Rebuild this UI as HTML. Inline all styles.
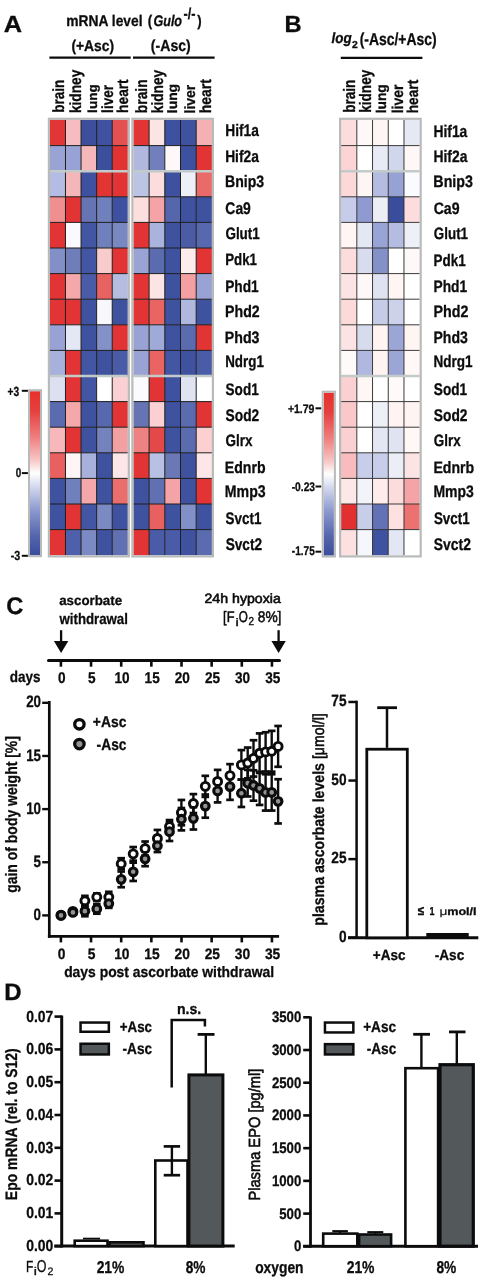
<!DOCTYPE html><html><head><meta charset="utf-8"><style>html,body{margin:0;padding:0;background:#fff;width:486px;height:1280px;overflow:hidden}</style></head><body><svg width="486" height="1280" viewBox="0 0 486 1280" style="display:block">
<defs><linearGradient id="cb" x1="0" y1="0" x2="0" y2="1">
<stop offset="0" stop-color="#e8302c"/><stop offset="0.12" stop-color="#e5403e"/><stop offset="0.28" stop-color="#ef7e7e"/>
<stop offset="0.42" stop-color="#f8c6c6"/><stop offset="0.5" stop-color="#ffffff"/><stop offset="0.58" stop-color="#d4d9ef"/>
<stop offset="0.72" stop-color="#8f9bd0"/><stop offset="0.88" stop-color="#5566ac"/><stop offset="1" stop-color="#3a4d9c"/>
</linearGradient></defs>
<rect width="486" height="1280" fill="#ffffff"/>
<line x1="49.40" y1="57.60" x2="130.70" y2="57.60" stroke="#0c0c0c" stroke-width="2.2" stroke-linecap="butt"/>
<line x1="133.00" y1="57.60" x2="214.60" y2="57.60" stroke="#0c0c0c" stroke-width="2.2" stroke-linecap="butt"/>
<line x1="340.80" y1="57.90" x2="422.40" y2="57.90" stroke="#0c0c0c" stroke-width="2.2" stroke-linecap="butt"/>
<rect x="49.90" y="120.00" width="15.63" height="25.65" fill="#e23535"/>
<rect x="65.48" y="120.00" width="15.63" height="25.65" fill="#f6bcbf"/>
<rect x="81.06" y="120.00" width="15.63" height="25.65" fill="#3c4f9c"/>
<rect x="96.64" y="120.00" width="15.63" height="25.65" fill="#3f51a0"/>
<rect x="112.22" y="120.00" width="15.63" height="25.65" fill="#e55050"/>
<rect x="49.90" y="145.60" width="15.63" height="25.65" fill="#9aa4d4"/>
<rect x="65.48" y="145.60" width="15.63" height="25.65" fill="#98a2d4"/>
<rect x="81.06" y="145.60" width="15.63" height="25.65" fill="#f5b8ba"/>
<rect x="96.64" y="145.60" width="15.63" height="25.65" fill="#3b4f9c"/>
<rect x="112.22" y="145.60" width="15.63" height="25.65" fill="#e23232"/>
<rect x="49.90" y="171.20" width="15.63" height="25.65" fill="#b4bce4"/>
<rect x="65.48" y="171.20" width="15.63" height="25.65" fill="#f4b6b8"/>
<rect x="81.06" y="171.20" width="15.63" height="25.65" fill="#3d51a0"/>
<rect x="96.64" y="171.20" width="15.63" height="25.65" fill="#e33434"/>
<rect x="112.22" y="171.20" width="15.63" height="25.65" fill="#e23434"/>
<rect x="49.90" y="196.80" width="15.63" height="25.65" fill="#ef8f90"/>
<rect x="65.48" y="196.80" width="15.63" height="25.65" fill="#e23434"/>
<rect x="81.06" y="196.80" width="15.63" height="25.65" fill="#6674b4"/>
<rect x="96.64" y="196.80" width="15.63" height="25.65" fill="#7080bc"/>
<rect x="112.22" y="196.80" width="15.63" height="25.65" fill="#3d51a0"/>
<rect x="49.90" y="222.40" width="15.63" height="25.65" fill="#e23434"/>
<rect x="65.48" y="222.40" width="15.63" height="25.65" fill="#fafafe"/>
<rect x="81.06" y="222.40" width="15.63" height="25.65" fill="#4356a4"/>
<rect x="96.64" y="222.40" width="15.63" height="25.65" fill="#7080bc"/>
<rect x="112.22" y="222.40" width="15.63" height="25.65" fill="#7a88c2"/>
<rect x="49.90" y="248.00" width="15.63" height="25.65" fill="#8390c8"/>
<rect x="65.48" y="248.00" width="15.63" height="25.65" fill="#6f7db8"/>
<rect x="81.06" y="248.00" width="15.63" height="25.65" fill="#4356a4"/>
<rect x="96.64" y="248.00" width="15.63" height="25.65" fill="#f8cccd"/>
<rect x="112.22" y="248.00" width="15.63" height="25.65" fill="#e23434"/>
<rect x="49.90" y="273.60" width="15.63" height="25.65" fill="#e23434"/>
<rect x="65.48" y="273.60" width="15.63" height="25.65" fill="#f4a8aa"/>
<rect x="81.06" y="273.60" width="15.63" height="25.65" fill="#4a5ca8"/>
<rect x="96.64" y="273.60" width="15.63" height="25.65" fill="#e86262"/>
<rect x="112.22" y="273.60" width="15.63" height="25.65" fill="#b4bce0"/>
<rect x="49.90" y="299.20" width="15.63" height="25.65" fill="#e23434"/>
<rect x="65.48" y="299.20" width="15.63" height="25.65" fill="#e23434"/>
<rect x="81.06" y="299.20" width="15.63" height="25.65" fill="#3f52a0"/>
<rect x="96.64" y="299.20" width="15.63" height="25.65" fill="#f8f8fc"/>
<rect x="112.22" y="299.20" width="15.63" height="25.65" fill="#3f52a0"/>
<rect x="49.90" y="324.80" width="15.63" height="25.65" fill="#98a2d4"/>
<rect x="65.48" y="324.80" width="15.63" height="25.65" fill="#e4e8f4"/>
<rect x="81.06" y="324.80" width="15.63" height="25.65" fill="#3f52a0"/>
<rect x="96.64" y="324.80" width="15.63" height="25.65" fill="#8490c8"/>
<rect x="112.22" y="324.80" width="15.63" height="25.65" fill="#e23434"/>
<rect x="49.90" y="350.40" width="15.63" height="25.65" fill="#a8b0dc"/>
<rect x="65.48" y="350.40" width="15.63" height="25.65" fill="#e23434"/>
<rect x="81.06" y="350.40" width="15.63" height="25.65" fill="#4356a4"/>
<rect x="96.64" y="350.40" width="15.63" height="25.65" fill="#3f52a0"/>
<rect x="112.22" y="350.40" width="15.63" height="25.65" fill="#4a5ca8"/>
<rect x="49.90" y="376.00" width="15.63" height="25.65" fill="#dce0f0"/>
<rect x="65.48" y="376.00" width="15.63" height="25.65" fill="#e23434"/>
<rect x="81.06" y="376.00" width="15.63" height="25.65" fill="#4356a4"/>
<rect x="96.64" y="376.00" width="15.63" height="25.65" fill="#ffffff"/>
<rect x="112.22" y="376.00" width="15.63" height="25.65" fill="#fad0d2"/>
<rect x="49.90" y="401.60" width="15.63" height="25.65" fill="#5a6bb0"/>
<rect x="65.48" y="401.60" width="15.63" height="25.65" fill="#f4a8aa"/>
<rect x="81.06" y="401.60" width="15.63" height="25.65" fill="#3f52a0"/>
<rect x="96.64" y="401.60" width="15.63" height="25.65" fill="#5868ae"/>
<rect x="112.22" y="401.60" width="15.63" height="25.65" fill="#e23434"/>
<rect x="49.90" y="427.20" width="15.63" height="25.65" fill="#f6b8ba"/>
<rect x="65.48" y="427.20" width="15.63" height="25.65" fill="#e23434"/>
<rect x="81.06" y="427.20" width="15.63" height="25.65" fill="#3f52a0"/>
<rect x="96.64" y="427.20" width="15.63" height="25.65" fill="#7482be"/>
<rect x="112.22" y="427.20" width="15.63" height="25.65" fill="#f2a0a2"/>
<rect x="49.90" y="452.80" width="15.63" height="25.65" fill="#e86060"/>
<rect x="65.48" y="452.80" width="15.63" height="25.65" fill="#fef6f6"/>
<rect x="81.06" y="452.80" width="15.63" height="25.65" fill="#a8b0dc"/>
<rect x="96.64" y="452.80" width="15.63" height="25.65" fill="#3f52a0"/>
<rect x="112.22" y="452.80" width="15.63" height="25.65" fill="#fce6e8"/>
<rect x="49.90" y="478.40" width="15.63" height="25.65" fill="#3f52a0"/>
<rect x="65.48" y="478.40" width="15.63" height="25.65" fill="#7080bc"/>
<rect x="81.06" y="478.40" width="15.63" height="25.65" fill="#f4a8aa"/>
<rect x="96.64" y="478.40" width="15.63" height="25.65" fill="#3f52a0"/>
<rect x="112.22" y="478.40" width="15.63" height="25.65" fill="#ea6e6e"/>
<rect x="49.90" y="504.00" width="15.63" height="25.65" fill="#3f52a0"/>
<rect x="65.48" y="504.00" width="15.63" height="25.65" fill="#e23434"/>
<rect x="81.06" y="504.00" width="15.63" height="25.65" fill="#4356a4"/>
<rect x="96.64" y="504.00" width="15.63" height="25.65" fill="#7c8ac4"/>
<rect x="112.22" y="504.00" width="15.63" height="25.65" fill="#3f52a0"/>
<rect x="49.90" y="529.60" width="15.63" height="25.65" fill="#e23434"/>
<rect x="65.48" y="529.60" width="15.63" height="25.65" fill="#4f60aa"/>
<rect x="81.06" y="529.60" width="15.63" height="25.65" fill="#7c8ac4"/>
<rect x="96.64" y="529.60" width="15.63" height="25.65" fill="#3f52a0"/>
<rect x="112.22" y="529.60" width="15.63" height="25.65" fill="#6070b2"/>
<line x1="65.48" y1="120.00" x2="65.48" y2="555.20" stroke="#1e1e1e" stroke-width="1.0" stroke-linecap="butt"/>
<line x1="81.06" y1="120.00" x2="81.06" y2="555.20" stroke="#1e1e1e" stroke-width="1.0" stroke-linecap="butt"/>
<line x1="96.64" y1="120.00" x2="96.64" y2="555.20" stroke="#1e1e1e" stroke-width="1.0" stroke-linecap="butt"/>
<line x1="112.22" y1="120.00" x2="112.22" y2="555.20" stroke="#1e1e1e" stroke-width="1.0" stroke-linecap="butt"/>
<line x1="49.90" y1="145.60" x2="127.80" y2="145.60" stroke="#1e1e1e" stroke-width="1.0" stroke-linecap="butt"/>
<line x1="49.90" y1="196.80" x2="127.80" y2="196.80" stroke="#1e1e1e" stroke-width="1.0" stroke-linecap="butt"/>
<line x1="49.90" y1="222.40" x2="127.80" y2="222.40" stroke="#1e1e1e" stroke-width="1.0" stroke-linecap="butt"/>
<line x1="49.90" y1="248.00" x2="127.80" y2="248.00" stroke="#1e1e1e" stroke-width="1.0" stroke-linecap="butt"/>
<line x1="49.90" y1="273.60" x2="127.80" y2="273.60" stroke="#1e1e1e" stroke-width="1.0" stroke-linecap="butt"/>
<line x1="49.90" y1="299.20" x2="127.80" y2="299.20" stroke="#1e1e1e" stroke-width="1.0" stroke-linecap="butt"/>
<line x1="49.90" y1="324.80" x2="127.80" y2="324.80" stroke="#1e1e1e" stroke-width="1.0" stroke-linecap="butt"/>
<line x1="49.90" y1="350.40" x2="127.80" y2="350.40" stroke="#1e1e1e" stroke-width="1.0" stroke-linecap="butt"/>
<line x1="49.90" y1="401.60" x2="127.80" y2="401.60" stroke="#1e1e1e" stroke-width="1.0" stroke-linecap="butt"/>
<line x1="49.90" y1="427.20" x2="127.80" y2="427.20" stroke="#1e1e1e" stroke-width="1.0" stroke-linecap="butt"/>
<line x1="49.90" y1="452.80" x2="127.80" y2="452.80" stroke="#1e1e1e" stroke-width="1.0" stroke-linecap="butt"/>
<line x1="49.90" y1="478.40" x2="127.80" y2="478.40" stroke="#1e1e1e" stroke-width="1.0" stroke-linecap="butt"/>
<line x1="49.90" y1="504.00" x2="127.80" y2="504.00" stroke="#1e1e1e" stroke-width="1.0" stroke-linecap="butt"/>
<line x1="49.90" y1="529.60" x2="127.80" y2="529.60" stroke="#1e1e1e" stroke-width="1.0" stroke-linecap="butt"/>
<line x1="49.90" y1="171.20" x2="127.80" y2="171.20" stroke="#c3caca" stroke-width="2.4" stroke-linecap="butt"/>
<line x1="49.90" y1="376.00" x2="127.80" y2="376.00" stroke="#c3caca" stroke-width="2.4" stroke-linecap="butt"/>
<rect x="48.90" y="118.80" width="79.90" height="437.60" fill="none" stroke="#b9bbbb" stroke-width="2.2"/>
<rect x="133.40" y="120.00" width="15.75" height="25.65" fill="#e23434"/>
<rect x="149.10" y="120.00" width="15.75" height="25.65" fill="#fce4e4"/>
<rect x="164.80" y="120.00" width="15.75" height="25.65" fill="#3d51a0"/>
<rect x="180.50" y="120.00" width="15.75" height="25.65" fill="#3f52a0"/>
<rect x="196.20" y="120.00" width="15.75" height="25.65" fill="#f4b0b2"/>
<rect x="133.40" y="145.60" width="15.75" height="25.65" fill="#b0b8e0"/>
<rect x="149.10" y="145.60" width="15.75" height="25.65" fill="#7180bc"/>
<rect x="164.80" y="145.60" width="15.75" height="25.65" fill="#fef8f8"/>
<rect x="180.50" y="145.60" width="15.75" height="25.65" fill="#3d51a0"/>
<rect x="196.20" y="145.60" width="15.75" height="25.65" fill="#e23434"/>
<rect x="133.40" y="171.20" width="15.75" height="25.65" fill="#bcc4e6"/>
<rect x="149.10" y="171.20" width="15.75" height="25.65" fill="#fcdcdc"/>
<rect x="164.80" y="171.20" width="15.75" height="25.65" fill="#3d51a0"/>
<rect x="180.50" y="171.20" width="15.75" height="25.65" fill="#eef0f8"/>
<rect x="196.20" y="171.20" width="15.75" height="25.65" fill="#ea6a6a"/>
<rect x="133.40" y="196.80" width="15.75" height="25.65" fill="#fcdede"/>
<rect x="149.10" y="196.80" width="15.75" height="25.65" fill="#f4a4a6"/>
<rect x="164.80" y="196.80" width="15.75" height="25.65" fill="#5566ac"/>
<rect x="180.50" y="196.80" width="15.75" height="25.65" fill="#3f52a0"/>
<rect x="196.20" y="196.80" width="15.75" height="25.65" fill="#3f52a0"/>
<rect x="133.40" y="222.40" width="15.75" height="25.65" fill="#e23434"/>
<rect x="149.10" y="222.40" width="15.75" height="25.65" fill="#aab2de"/>
<rect x="164.80" y="222.40" width="15.75" height="25.65" fill="#3f52a0"/>
<rect x="180.50" y="222.40" width="15.75" height="25.65" fill="#4a5ca6"/>
<rect x="196.20" y="222.40" width="15.75" height="25.65" fill="#5868ae"/>
<rect x="133.40" y="248.00" width="15.75" height="25.65" fill="#9aa4d4"/>
<rect x="149.10" y="248.00" width="15.75" height="25.65" fill="#5a6bb0"/>
<rect x="164.80" y="248.00" width="15.75" height="25.65" fill="#3f52a0"/>
<rect x="180.50" y="248.00" width="15.75" height="25.65" fill="#fcecec"/>
<rect x="196.20" y="248.00" width="15.75" height="25.65" fill="#e23434"/>
<rect x="133.40" y="273.60" width="15.75" height="25.65" fill="#e23434"/>
<rect x="149.10" y="273.60" width="15.75" height="25.65" fill="#fde4e4"/>
<rect x="164.80" y="273.60" width="15.75" height="25.65" fill="#3f52a0"/>
<rect x="180.50" y="273.60" width="15.75" height="25.65" fill="#f4a0a2"/>
<rect x="196.20" y="273.60" width="15.75" height="25.65" fill="#98a2d4"/>
<rect x="133.40" y="299.20" width="15.75" height="25.65" fill="#e23434"/>
<rect x="149.10" y="299.20" width="15.75" height="25.65" fill="#ea6464"/>
<rect x="164.80" y="299.20" width="15.75" height="25.65" fill="#3f52a0"/>
<rect x="180.50" y="299.20" width="15.75" height="25.65" fill="#b0b8e0"/>
<rect x="196.20" y="299.20" width="15.75" height="25.65" fill="#3f52a0"/>
<rect x="133.40" y="324.80" width="15.75" height="25.65" fill="#98a2d4"/>
<rect x="149.10" y="324.80" width="15.75" height="25.65" fill="#a0aad8"/>
<rect x="164.80" y="324.80" width="15.75" height="25.65" fill="#3f52a0"/>
<rect x="180.50" y="324.80" width="15.75" height="25.65" fill="#5a6bb0"/>
<rect x="196.20" y="324.80" width="15.75" height="25.65" fill="#e23434"/>
<rect x="133.40" y="350.40" width="15.75" height="25.65" fill="#98a2d4"/>
<rect x="149.10" y="350.40" width="15.75" height="25.65" fill="#ea6464"/>
<rect x="164.80" y="350.40" width="15.75" height="25.65" fill="#4356a4"/>
<rect x="180.50" y="350.40" width="15.75" height="25.65" fill="#3f52a0"/>
<rect x="196.20" y="350.40" width="15.75" height="25.65" fill="#4a5ca8"/>
<rect x="133.40" y="376.00" width="15.75" height="25.65" fill="#fafaff"/>
<rect x="149.10" y="376.00" width="15.75" height="25.65" fill="#e23434"/>
<rect x="164.80" y="376.00" width="15.75" height="25.65" fill="#3f52a0"/>
<rect x="180.50" y="376.00" width="15.75" height="25.65" fill="#e0e4f2"/>
<rect x="196.20" y="376.00" width="15.75" height="25.65" fill="#ffffff"/>
<rect x="133.40" y="401.60" width="15.75" height="25.65" fill="#6674b4"/>
<rect x="149.10" y="401.60" width="15.75" height="25.65" fill="#fcd0d2"/>
<rect x="164.80" y="401.60" width="15.75" height="25.65" fill="#3f52a0"/>
<rect x="180.50" y="401.60" width="15.75" height="25.65" fill="#5a6bb0"/>
<rect x="196.20" y="401.60" width="15.75" height="25.65" fill="#e23434"/>
<rect x="133.40" y="427.20" width="15.75" height="25.65" fill="#ee8282"/>
<rect x="149.10" y="427.20" width="15.75" height="25.65" fill="#e44848"/>
<rect x="164.80" y="427.20" width="15.75" height="25.65" fill="#3f52a0"/>
<rect x="180.50" y="427.20" width="15.75" height="25.65" fill="#5a6bb0"/>
<rect x="196.20" y="427.20" width="15.75" height="25.65" fill="#fccfd0"/>
<rect x="133.40" y="452.80" width="15.75" height="25.65" fill="#e23434"/>
<rect x="149.10" y="452.80" width="15.75" height="25.65" fill="#b8c0e4"/>
<rect x="164.80" y="452.80" width="15.75" height="25.65" fill="#6a78b6"/>
<rect x="180.50" y="452.80" width="15.75" height="25.65" fill="#3f52a0"/>
<rect x="196.20" y="452.80" width="15.75" height="25.65" fill="#fde6e8"/>
<rect x="133.40" y="478.40" width="15.75" height="25.65" fill="#3f52a0"/>
<rect x="149.10" y="478.40" width="15.75" height="25.65" fill="#6070b2"/>
<rect x="164.80" y="478.40" width="15.75" height="25.65" fill="#f4a4a6"/>
<rect x="180.50" y="478.40" width="15.75" height="25.65" fill="#3f52a0"/>
<rect x="196.20" y="478.40" width="15.75" height="25.65" fill="#e23434"/>
<rect x="133.40" y="504.00" width="15.75" height="25.65" fill="#3f52a0"/>
<rect x="149.10" y="504.00" width="15.75" height="25.65" fill="#e86060"/>
<rect x="164.80" y="504.00" width="15.75" height="25.65" fill="#3f52a0"/>
<rect x="180.50" y="504.00" width="15.75" height="25.65" fill="#8290c8"/>
<rect x="196.20" y="504.00" width="15.75" height="25.65" fill="#3f52a0"/>
<rect x="133.40" y="529.60" width="15.75" height="25.65" fill="#e23434"/>
<rect x="149.10" y="529.60" width="15.75" height="25.65" fill="#4a5ca8"/>
<rect x="164.80" y="529.60" width="15.75" height="25.65" fill="#4a5ca8"/>
<rect x="180.50" y="529.60" width="15.75" height="25.65" fill="#3f52a0"/>
<rect x="196.20" y="529.60" width="15.75" height="25.65" fill="#5a6bb0"/>
<line x1="149.10" y1="120.00" x2="149.10" y2="555.20" stroke="#1e1e1e" stroke-width="1.0" stroke-linecap="butt"/>
<line x1="164.80" y1="120.00" x2="164.80" y2="555.20" stroke="#1e1e1e" stroke-width="1.0" stroke-linecap="butt"/>
<line x1="180.50" y1="120.00" x2="180.50" y2="555.20" stroke="#1e1e1e" stroke-width="1.0" stroke-linecap="butt"/>
<line x1="196.20" y1="120.00" x2="196.20" y2="555.20" stroke="#1e1e1e" stroke-width="1.0" stroke-linecap="butt"/>
<line x1="133.40" y1="145.60" x2="211.90" y2="145.60" stroke="#1e1e1e" stroke-width="1.0" stroke-linecap="butt"/>
<line x1="133.40" y1="196.80" x2="211.90" y2="196.80" stroke="#1e1e1e" stroke-width="1.0" stroke-linecap="butt"/>
<line x1="133.40" y1="222.40" x2="211.90" y2="222.40" stroke="#1e1e1e" stroke-width="1.0" stroke-linecap="butt"/>
<line x1="133.40" y1="248.00" x2="211.90" y2="248.00" stroke="#1e1e1e" stroke-width="1.0" stroke-linecap="butt"/>
<line x1="133.40" y1="273.60" x2="211.90" y2="273.60" stroke="#1e1e1e" stroke-width="1.0" stroke-linecap="butt"/>
<line x1="133.40" y1="299.20" x2="211.90" y2="299.20" stroke="#1e1e1e" stroke-width="1.0" stroke-linecap="butt"/>
<line x1="133.40" y1="324.80" x2="211.90" y2="324.80" stroke="#1e1e1e" stroke-width="1.0" stroke-linecap="butt"/>
<line x1="133.40" y1="350.40" x2="211.90" y2="350.40" stroke="#1e1e1e" stroke-width="1.0" stroke-linecap="butt"/>
<line x1="133.40" y1="401.60" x2="211.90" y2="401.60" stroke="#1e1e1e" stroke-width="1.0" stroke-linecap="butt"/>
<line x1="133.40" y1="427.20" x2="211.90" y2="427.20" stroke="#1e1e1e" stroke-width="1.0" stroke-linecap="butt"/>
<line x1="133.40" y1="452.80" x2="211.90" y2="452.80" stroke="#1e1e1e" stroke-width="1.0" stroke-linecap="butt"/>
<line x1="133.40" y1="478.40" x2="211.90" y2="478.40" stroke="#1e1e1e" stroke-width="1.0" stroke-linecap="butt"/>
<line x1="133.40" y1="504.00" x2="211.90" y2="504.00" stroke="#1e1e1e" stroke-width="1.0" stroke-linecap="butt"/>
<line x1="133.40" y1="529.60" x2="211.90" y2="529.60" stroke="#1e1e1e" stroke-width="1.0" stroke-linecap="butt"/>
<line x1="133.40" y1="171.20" x2="211.90" y2="171.20" stroke="#c3caca" stroke-width="2.4" stroke-linecap="butt"/>
<line x1="133.40" y1="376.00" x2="211.90" y2="376.00" stroke="#c3caca" stroke-width="2.4" stroke-linecap="butt"/>
<rect x="132.40" y="118.80" width="80.50" height="437.60" fill="none" stroke="#b9bbbb" stroke-width="2.2"/>
<rect x="341.10" y="120.00" width="15.77" height="25.65" fill="#fcdcdc"/>
<rect x="356.82" y="120.00" width="15.77" height="25.65" fill="#fef8f8"/>
<rect x="372.54" y="120.00" width="15.77" height="25.65" fill="#fef6f4"/>
<rect x="388.26" y="120.00" width="15.77" height="25.65" fill="#ffffff"/>
<rect x="403.98" y="120.00" width="15.77" height="25.65" fill="#e6e9f4"/>
<rect x="341.10" y="145.60" width="15.77" height="25.65" fill="#fcd4d6"/>
<rect x="356.82" y="145.60" width="15.77" height="25.65" fill="#ffffff"/>
<rect x="372.54" y="145.60" width="15.77" height="25.65" fill="#e8ebf5"/>
<rect x="388.26" y="145.60" width="15.77" height="25.65" fill="#d0d6ec"/>
<rect x="403.98" y="145.60" width="15.77" height="25.65" fill="#fff8f6"/>
<rect x="341.10" y="171.20" width="15.77" height="25.65" fill="#fcd8d8"/>
<rect x="356.82" y="171.20" width="15.77" height="25.65" fill="#fef6f4"/>
<rect x="372.54" y="171.20" width="15.77" height="25.65" fill="#b4bce2"/>
<rect x="388.26" y="171.20" width="15.77" height="25.65" fill="#97a2d4"/>
<rect x="403.98" y="171.20" width="15.77" height="25.65" fill="#fafbff"/>
<rect x="341.10" y="196.80" width="15.77" height="25.65" fill="#c6cce9"/>
<rect x="356.82" y="196.80" width="15.77" height="25.65" fill="#8e9ad0"/>
<rect x="372.54" y="196.80" width="15.77" height="25.65" fill="#eceef6"/>
<rect x="388.26" y="196.80" width="15.77" height="25.65" fill="#3a4d9c"/>
<rect x="403.98" y="196.80" width="15.77" height="25.65" fill="#fcdcdc"/>
<rect x="341.10" y="222.40" width="15.77" height="25.65" fill="#fff6f4"/>
<rect x="356.82" y="222.40" width="15.77" height="25.65" fill="#e4e8f4"/>
<rect x="372.54" y="222.40" width="15.77" height="25.65" fill="#99a4d6"/>
<rect x="388.26" y="222.40" width="15.77" height="25.65" fill="#b4bce2"/>
<rect x="403.98" y="222.40" width="15.77" height="25.65" fill="#eef0f8"/>
<rect x="341.10" y="248.00" width="15.77" height="25.65" fill="#fcdcdc"/>
<rect x="356.82" y="248.00" width="15.77" height="25.65" fill="#d8dcef"/>
<rect x="372.54" y="248.00" width="15.77" height="25.65" fill="#8490c8"/>
<rect x="388.26" y="248.00" width="15.77" height="25.65" fill="#ffffff"/>
<rect x="403.98" y="248.00" width="15.77" height="25.65" fill="#fff8f8"/>
<rect x="341.10" y="273.60" width="15.77" height="25.65" fill="#fde4e4"/>
<rect x="356.82" y="273.60" width="15.77" height="25.65" fill="#fff8f8"/>
<rect x="372.54" y="273.60" width="15.77" height="25.65" fill="#dfe3f1"/>
<rect x="388.26" y="273.60" width="15.77" height="25.65" fill="#fff6f4"/>
<rect x="403.98" y="273.60" width="15.77" height="25.65" fill="#ffffff"/>
<rect x="341.10" y="299.20" width="15.77" height="25.65" fill="#fcdada"/>
<rect x="356.82" y="299.20" width="15.77" height="25.65" fill="#ffffff"/>
<rect x="372.54" y="299.20" width="15.77" height="25.65" fill="#c6cce8"/>
<rect x="388.26" y="299.20" width="15.77" height="25.65" fill="#ccd2ea"/>
<rect x="403.98" y="299.20" width="15.77" height="25.65" fill="#ffffff"/>
<rect x="341.10" y="324.80" width="15.77" height="25.65" fill="#fde4e4"/>
<rect x="356.82" y="324.80" width="15.77" height="25.65" fill="#d6dbee"/>
<rect x="372.54" y="324.80" width="15.77" height="25.65" fill="#fff4f2"/>
<rect x="388.26" y="324.80" width="15.77" height="25.65" fill="#9ca6d6"/>
<rect x="403.98" y="324.80" width="15.77" height="25.65" fill="#fff6f4"/>
<rect x="341.10" y="350.40" width="15.77" height="25.65" fill="#fffafa"/>
<rect x="356.82" y="350.40" width="15.77" height="25.65" fill="#b0b8e0"/>
<rect x="372.54" y="350.40" width="15.77" height="25.65" fill="#fff4f2"/>
<rect x="388.26" y="350.40" width="15.77" height="25.65" fill="#9ca6d6"/>
<rect x="403.98" y="350.40" width="15.77" height="25.65" fill="#fff8f6"/>
<rect x="341.10" y="376.00" width="15.77" height="25.65" fill="#fbd0d2"/>
<rect x="356.82" y="376.00" width="15.77" height="25.65" fill="#fff6f6"/>
<rect x="372.54" y="376.00" width="15.77" height="25.65" fill="#ffffff"/>
<rect x="388.26" y="376.00" width="15.77" height="25.65" fill="#fffafa"/>
<rect x="403.98" y="376.00" width="15.77" height="25.65" fill="#ffffff"/>
<rect x="341.10" y="401.60" width="15.77" height="25.65" fill="#fbc8ca"/>
<rect x="356.82" y="401.60" width="15.77" height="25.65" fill="#ffffff"/>
<rect x="372.54" y="401.60" width="15.77" height="25.65" fill="#eef0f8"/>
<rect x="388.26" y="401.60" width="15.77" height="25.65" fill="#fff4f2"/>
<rect x="403.98" y="401.60" width="15.77" height="25.65" fill="#fff4f2"/>
<rect x="341.10" y="427.20" width="15.77" height="25.65" fill="#fbd0d2"/>
<rect x="356.82" y="427.20" width="15.77" height="25.65" fill="#ffffff"/>
<rect x="372.54" y="427.20" width="15.77" height="25.65" fill="#e3e7f4"/>
<rect x="388.26" y="427.20" width="15.77" height="25.65" fill="#e0e4f2"/>
<rect x="403.98" y="427.20" width="15.77" height="25.65" fill="#fff8f6"/>
<rect x="341.10" y="452.80" width="15.77" height="25.65" fill="#f8bcbe"/>
<rect x="356.82" y="452.80" width="15.77" height="25.65" fill="#c8cee9"/>
<rect x="372.54" y="452.80" width="15.77" height="25.65" fill="#c8cee9"/>
<rect x="388.26" y="452.80" width="15.77" height="25.65" fill="#eceef7"/>
<rect x="403.98" y="452.80" width="15.77" height="25.65" fill="#fde4e4"/>
<rect x="341.10" y="478.40" width="15.77" height="25.65" fill="#fde8e8"/>
<rect x="356.82" y="478.40" width="15.77" height="25.65" fill="#f2f4fa"/>
<rect x="372.54" y="478.40" width="15.77" height="25.65" fill="#fdeceb"/>
<rect x="388.26" y="478.40" width="15.77" height="25.65" fill="#fcdcdc"/>
<rect x="403.98" y="478.40" width="15.77" height="25.65" fill="#f4a4a6"/>
<rect x="341.10" y="504.00" width="15.77" height="25.65" fill="#e23030"/>
<rect x="356.82" y="504.00" width="15.77" height="25.65" fill="#c8cee9"/>
<rect x="372.54" y="504.00" width="15.77" height="25.65" fill="#6272b4"/>
<rect x="388.26" y="504.00" width="15.77" height="25.65" fill="#fde0e0"/>
<rect x="403.98" y="504.00" width="15.77" height="25.65" fill="#ec7272"/>
<rect x="341.10" y="529.60" width="15.77" height="25.65" fill="#fde0e0"/>
<rect x="356.82" y="529.60" width="15.77" height="25.65" fill="#f6f7fc"/>
<rect x="372.54" y="529.60" width="15.77" height="25.65" fill="#3f52a0"/>
<rect x="388.26" y="529.60" width="15.77" height="25.65" fill="#e3e7f4"/>
<rect x="403.98" y="529.60" width="15.77" height="25.65" fill="#ffffff"/>
<line x1="356.82" y1="120.00" x2="356.82" y2="555.20" stroke="#303030" stroke-width="0.95" stroke-linecap="butt"/>
<line x1="372.54" y1="120.00" x2="372.54" y2="555.20" stroke="#303030" stroke-width="0.95" stroke-linecap="butt"/>
<line x1="388.26" y1="120.00" x2="388.26" y2="555.20" stroke="#303030" stroke-width="0.95" stroke-linecap="butt"/>
<line x1="403.98" y1="120.00" x2="403.98" y2="555.20" stroke="#303030" stroke-width="0.95" stroke-linecap="butt"/>
<line x1="341.10" y1="145.60" x2="419.70" y2="145.60" stroke="#303030" stroke-width="0.95" stroke-linecap="butt"/>
<line x1="341.10" y1="196.80" x2="419.70" y2="196.80" stroke="#303030" stroke-width="0.95" stroke-linecap="butt"/>
<line x1="341.10" y1="222.40" x2="419.70" y2="222.40" stroke="#303030" stroke-width="0.95" stroke-linecap="butt"/>
<line x1="341.10" y1="248.00" x2="419.70" y2="248.00" stroke="#303030" stroke-width="0.95" stroke-linecap="butt"/>
<line x1="341.10" y1="273.60" x2="419.70" y2="273.60" stroke="#303030" stroke-width="0.95" stroke-linecap="butt"/>
<line x1="341.10" y1="299.20" x2="419.70" y2="299.20" stroke="#303030" stroke-width="0.95" stroke-linecap="butt"/>
<line x1="341.10" y1="324.80" x2="419.70" y2="324.80" stroke="#303030" stroke-width="0.95" stroke-linecap="butt"/>
<line x1="341.10" y1="350.40" x2="419.70" y2="350.40" stroke="#303030" stroke-width="0.95" stroke-linecap="butt"/>
<line x1="341.10" y1="401.60" x2="419.70" y2="401.60" stroke="#303030" stroke-width="0.95" stroke-linecap="butt"/>
<line x1="341.10" y1="427.20" x2="419.70" y2="427.20" stroke="#303030" stroke-width="0.95" stroke-linecap="butt"/>
<line x1="341.10" y1="452.80" x2="419.70" y2="452.80" stroke="#303030" stroke-width="0.95" stroke-linecap="butt"/>
<line x1="341.10" y1="478.40" x2="419.70" y2="478.40" stroke="#303030" stroke-width="0.95" stroke-linecap="butt"/>
<line x1="341.10" y1="504.00" x2="419.70" y2="504.00" stroke="#303030" stroke-width="0.95" stroke-linecap="butt"/>
<line x1="341.10" y1="529.60" x2="419.70" y2="529.60" stroke="#303030" stroke-width="0.95" stroke-linecap="butt"/>
<line x1="341.10" y1="171.20" x2="419.70" y2="171.20" stroke="#c3caca" stroke-width="2.4" stroke-linecap="butt"/>
<line x1="341.10" y1="376.00" x2="419.70" y2="376.00" stroke="#c3caca" stroke-width="2.4" stroke-linecap="butt"/>
<rect x="340.10" y="118.80" width="80.60" height="437.60" fill="none" stroke="#b9bbbb" stroke-width="2.2"/>
<rect x="30.00" y="391.20" width="10.00" height="164.00" fill="url(#cb)"/>
<rect x="29.00" y="390.20" width="12.00" height="166.00" fill="none" stroke="#b9bbbb" stroke-width="2"/>
<rect x="323.70" y="392.70" width="10.20" height="162.90" fill="url(#cb)"/>
<rect x="322.70" y="391.70" width="12.20" height="164.90" fill="none" stroke="#b9bbbb" stroke-width="2"/>
<line x1="21.80" y1="390.80" x2="27.90" y2="390.80" stroke="#0c0c0c" stroke-width="2" stroke-linecap="butt"/>
<line x1="21.80" y1="473.10" x2="27.90" y2="473.10" stroke="#0c0c0c" stroke-width="2" stroke-linecap="butt"/>
<line x1="21.80" y1="555.80" x2="27.90" y2="555.80" stroke="#0c0c0c" stroke-width="2" stroke-linecap="butt"/>
<line x1="315.50" y1="408.30" x2="321.20" y2="408.30" stroke="#0c0c0c" stroke-width="2" stroke-linecap="butt"/>
<line x1="315.50" y1="486.50" x2="321.20" y2="486.50" stroke="#0c0c0c" stroke-width="2" stroke-linecap="butt"/>
<line x1="315.50" y1="551.70" x2="321.20" y2="551.70" stroke="#0c0c0c" stroke-width="2" stroke-linecap="butt"/>
<line x1="48.50" y1="660.40" x2="279.50" y2="660.40" stroke="#0c0c0c" stroke-width="3" stroke-linecap="round"/>
<line x1="60.90" y1="660.40" x2="60.90" y2="666.70" stroke="#0c0c0c" stroke-width="2.6" stroke-linecap="butt"/>
<line x1="91.05" y1="660.40" x2="91.05" y2="666.70" stroke="#0c0c0c" stroke-width="2.6" stroke-linecap="butt"/>
<line x1="121.20" y1="660.40" x2="121.20" y2="666.70" stroke="#0c0c0c" stroke-width="2.6" stroke-linecap="butt"/>
<line x1="151.35" y1="660.40" x2="151.35" y2="666.70" stroke="#0c0c0c" stroke-width="2.6" stroke-linecap="butt"/>
<line x1="181.50" y1="660.40" x2="181.50" y2="666.70" stroke="#0c0c0c" stroke-width="2.6" stroke-linecap="butt"/>
<line x1="211.65" y1="660.40" x2="211.65" y2="666.70" stroke="#0c0c0c" stroke-width="2.6" stroke-linecap="butt"/>
<line x1="241.80" y1="660.40" x2="241.80" y2="666.70" stroke="#0c0c0c" stroke-width="2.6" stroke-linecap="butt"/>
<line x1="271.95" y1="660.40" x2="271.95" y2="666.70" stroke="#0c0c0c" stroke-width="2.6" stroke-linecap="butt"/>
<line x1="61.10" y1="630.20" x2="61.10" y2="642.00" stroke="#0c0c0c" stroke-width="2.3" stroke-linecap="butt"/>
<path d="M53.90,641 L68.30,641 L61.10,653.1 Z" fill="#0c0c0c"/>
<line x1="278.60" y1="630.20" x2="278.60" y2="642.00" stroke="#0c0c0c" stroke-width="2.3" stroke-linecap="butt"/>
<path d="M271.40,641 L285.80,641 L278.60,653.1 Z" fill="#0c0c0c"/>
<line x1="49.30" y1="701.00" x2="49.30" y2="937.80" stroke="#0c0c0c" stroke-width="2.7" stroke-linecap="butt"/>
<line x1="47.90" y1="936.40" x2="279.10" y2="936.40" stroke="#0c0c0c" stroke-width="2.6" stroke-linecap="butt"/>
<line x1="42.20" y1="915.40" x2="49.30" y2="915.40" stroke="#0c0c0c" stroke-width="2.4" stroke-linecap="butt"/>
<line x1="42.20" y1="862.25" x2="49.30" y2="862.25" stroke="#0c0c0c" stroke-width="2.4" stroke-linecap="butt"/>
<line x1="42.20" y1="809.10" x2="49.30" y2="809.10" stroke="#0c0c0c" stroke-width="2.4" stroke-linecap="butt"/>
<line x1="42.20" y1="755.95" x2="49.30" y2="755.95" stroke="#0c0c0c" stroke-width="2.4" stroke-linecap="butt"/>
<line x1="42.20" y1="702.80" x2="49.30" y2="702.80" stroke="#0c0c0c" stroke-width="2.4" stroke-linecap="butt"/>
<line x1="60.90" y1="936.40" x2="60.90" y2="942.40" stroke="#0c0c0c" stroke-width="2.6" stroke-linecap="butt"/>
<line x1="91.05" y1="936.40" x2="91.05" y2="942.40" stroke="#0c0c0c" stroke-width="2.6" stroke-linecap="butt"/>
<line x1="121.20" y1="936.40" x2="121.20" y2="942.40" stroke="#0c0c0c" stroke-width="2.6" stroke-linecap="butt"/>
<line x1="151.35" y1="936.40" x2="151.35" y2="942.40" stroke="#0c0c0c" stroke-width="2.6" stroke-linecap="butt"/>
<line x1="181.50" y1="936.40" x2="181.50" y2="942.40" stroke="#0c0c0c" stroke-width="2.6" stroke-linecap="butt"/>
<line x1="211.65" y1="936.40" x2="211.65" y2="942.40" stroke="#0c0c0c" stroke-width="2.6" stroke-linecap="butt"/>
<line x1="241.80" y1="936.40" x2="241.80" y2="942.40" stroke="#0c0c0c" stroke-width="2.6" stroke-linecap="butt"/>
<line x1="271.95" y1="936.40" x2="271.95" y2="942.40" stroke="#0c0c0c" stroke-width="2.6" stroke-linecap="butt"/>
<line x1="72.90" y1="909.77" x2="72.90" y2="912.96" stroke="#0c0c0c" stroke-width="2.4" stroke-linecap="butt"/>
<line x1="69.10" y1="909.77" x2="76.70" y2="909.77" stroke="#0c0c0c" stroke-width="2.7" stroke-linecap="butt"/>
<line x1="69.10" y1="912.96" x2="76.70" y2="912.96" stroke="#0c0c0c" stroke-width="2.7" stroke-linecap="butt"/>
<line x1="84.90" y1="895.84" x2="84.90" y2="905.62" stroke="#0c0c0c" stroke-width="2.4" stroke-linecap="butt"/>
<line x1="81.10" y1="895.84" x2="88.70" y2="895.84" stroke="#0c0c0c" stroke-width="2.7" stroke-linecap="butt"/>
<line x1="81.10" y1="905.62" x2="88.70" y2="905.62" stroke="#0c0c0c" stroke-width="2.7" stroke-linecap="butt"/>
<line x1="96.80" y1="893.40" x2="96.80" y2="900.84" stroke="#0c0c0c" stroke-width="2.4" stroke-linecap="butt"/>
<line x1="93.00" y1="893.40" x2="100.60" y2="893.40" stroke="#0c0c0c" stroke-width="2.7" stroke-linecap="butt"/>
<line x1="93.00" y1="900.84" x2="100.60" y2="900.84" stroke="#0c0c0c" stroke-width="2.7" stroke-linecap="butt"/>
<line x1="108.80" y1="891.80" x2="108.80" y2="902.43" stroke="#0c0c0c" stroke-width="2.4" stroke-linecap="butt"/>
<line x1="105.00" y1="891.80" x2="112.60" y2="891.80" stroke="#0c0c0c" stroke-width="2.7" stroke-linecap="butt"/>
<line x1="105.00" y1="902.43" x2="112.60" y2="902.43" stroke="#0c0c0c" stroke-width="2.7" stroke-linecap="butt"/>
<line x1="121.20" y1="858.21" x2="121.20" y2="869.27" stroke="#0c0c0c" stroke-width="2.4" stroke-linecap="butt"/>
<line x1="117.40" y1="858.21" x2="125.00" y2="858.21" stroke="#0c0c0c" stroke-width="2.7" stroke-linecap="butt"/>
<line x1="117.40" y1="869.27" x2="125.00" y2="869.27" stroke="#0c0c0c" stroke-width="2.7" stroke-linecap="butt"/>
<line x1="133.20" y1="847.05" x2="133.20" y2="860.66" stroke="#0c0c0c" stroke-width="2.4" stroke-linecap="butt"/>
<line x1="129.40" y1="847.05" x2="137.00" y2="847.05" stroke="#0c0c0c" stroke-width="2.7" stroke-linecap="butt"/>
<line x1="129.40" y1="860.66" x2="137.00" y2="860.66" stroke="#0c0c0c" stroke-width="2.7" stroke-linecap="butt"/>
<line x1="145.10" y1="841.52" x2="145.10" y2="855.55" stroke="#0c0c0c" stroke-width="2.4" stroke-linecap="butt"/>
<line x1="141.30" y1="841.52" x2="148.90" y2="841.52" stroke="#0c0c0c" stroke-width="2.7" stroke-linecap="butt"/>
<line x1="141.30" y1="855.55" x2="148.90" y2="855.55" stroke="#0c0c0c" stroke-width="2.7" stroke-linecap="butt"/>
<line x1="157.40" y1="829.93" x2="157.40" y2="846.94" stroke="#0c0c0c" stroke-width="2.4" stroke-linecap="butt"/>
<line x1="153.60" y1="829.93" x2="161.20" y2="829.93" stroke="#0c0c0c" stroke-width="2.7" stroke-linecap="butt"/>
<line x1="153.60" y1="846.94" x2="161.20" y2="846.94" stroke="#0c0c0c" stroke-width="2.7" stroke-linecap="butt"/>
<line x1="169.50" y1="820.05" x2="169.50" y2="833.23" stroke="#0c0c0c" stroke-width="2.4" stroke-linecap="butt"/>
<line x1="165.70" y1="820.05" x2="173.30" y2="820.05" stroke="#0c0c0c" stroke-width="2.7" stroke-linecap="butt"/>
<line x1="165.70" y1="833.23" x2="173.30" y2="833.23" stroke="#0c0c0c" stroke-width="2.7" stroke-linecap="butt"/>
<line x1="181.40" y1="799.96" x2="181.40" y2="825.26" stroke="#0c0c0c" stroke-width="2.4" stroke-linecap="butt"/>
<line x1="177.60" y1="799.96" x2="185.20" y2="799.96" stroke="#0c0c0c" stroke-width="2.7" stroke-linecap="butt"/>
<line x1="177.60" y1="825.26" x2="185.20" y2="825.26" stroke="#0c0c0c" stroke-width="2.7" stroke-linecap="butt"/>
<line x1="193.40" y1="794.11" x2="193.40" y2="813.03" stroke="#0c0c0c" stroke-width="2.4" stroke-linecap="butt"/>
<line x1="189.60" y1="794.11" x2="197.20" y2="794.11" stroke="#0c0c0c" stroke-width="2.7" stroke-linecap="butt"/>
<line x1="189.60" y1="813.03" x2="197.20" y2="813.03" stroke="#0c0c0c" stroke-width="2.7" stroke-linecap="butt"/>
<line x1="205.30" y1="775.83" x2="205.30" y2="796.88" stroke="#0c0c0c" stroke-width="2.4" stroke-linecap="butt"/>
<line x1="201.50" y1="775.83" x2="209.10" y2="775.83" stroke="#0c0c0c" stroke-width="2.7" stroke-linecap="butt"/>
<line x1="201.50" y1="796.88" x2="209.10" y2="796.88" stroke="#0c0c0c" stroke-width="2.7" stroke-linecap="butt"/>
<line x1="217.60" y1="769.88" x2="217.60" y2="793.05" stroke="#0c0c0c" stroke-width="2.4" stroke-linecap="butt"/>
<line x1="213.80" y1="769.88" x2="221.40" y2="769.88" stroke="#0c0c0c" stroke-width="2.7" stroke-linecap="butt"/>
<line x1="213.80" y1="793.05" x2="221.40" y2="793.05" stroke="#0c0c0c" stroke-width="2.7" stroke-linecap="butt"/>
<line x1="230.00" y1="764.14" x2="230.00" y2="787.10" stroke="#0c0c0c" stroke-width="2.4" stroke-linecap="butt"/>
<line x1="226.20" y1="764.14" x2="233.80" y2="764.14" stroke="#0c0c0c" stroke-width="2.7" stroke-linecap="butt"/>
<line x1="226.20" y1="787.10" x2="233.80" y2="787.10" stroke="#0c0c0c" stroke-width="2.7" stroke-linecap="butt"/>
<line x1="241.40" y1="750.10" x2="241.40" y2="779.65" stroke="#0c0c0c" stroke-width="2.4" stroke-linecap="butt"/>
<line x1="237.60" y1="750.10" x2="245.20" y2="750.10" stroke="#0c0c0c" stroke-width="2.7" stroke-linecap="butt"/>
<line x1="237.60" y1="779.65" x2="245.20" y2="779.65" stroke="#0c0c0c" stroke-width="2.7" stroke-linecap="butt"/>
<line x1="247.70" y1="747.55" x2="247.70" y2="778.38" stroke="#0c0c0c" stroke-width="2.4" stroke-linecap="butt"/>
<line x1="243.90" y1="747.55" x2="251.50" y2="747.55" stroke="#0c0c0c" stroke-width="2.7" stroke-linecap="butt"/>
<line x1="243.90" y1="778.38" x2="251.50" y2="778.38" stroke="#0c0c0c" stroke-width="2.7" stroke-linecap="butt"/>
<line x1="253.50" y1="740.22" x2="253.50" y2="776.57" stroke="#0c0c0c" stroke-width="2.4" stroke-linecap="butt"/>
<line x1="249.70" y1="740.22" x2="257.30" y2="740.22" stroke="#0c0c0c" stroke-width="2.7" stroke-linecap="butt"/>
<line x1="249.70" y1="776.57" x2="257.30" y2="776.57" stroke="#0c0c0c" stroke-width="2.7" stroke-linecap="butt"/>
<line x1="259.60" y1="733.41" x2="259.60" y2="772.96" stroke="#0c0c0c" stroke-width="2.4" stroke-linecap="butt"/>
<line x1="255.80" y1="733.41" x2="263.40" y2="733.41" stroke="#0c0c0c" stroke-width="2.7" stroke-linecap="butt"/>
<line x1="255.80" y1="772.96" x2="263.40" y2="772.96" stroke="#0c0c0c" stroke-width="2.7" stroke-linecap="butt"/>
<line x1="265.60" y1="732.25" x2="265.60" y2="771.58" stroke="#0c0c0c" stroke-width="2.4" stroke-linecap="butt"/>
<line x1="261.80" y1="732.25" x2="269.40" y2="732.25" stroke="#0c0c0c" stroke-width="2.7" stroke-linecap="butt"/>
<line x1="261.80" y1="771.58" x2="269.40" y2="771.58" stroke="#0c0c0c" stroke-width="2.7" stroke-linecap="butt"/>
<line x1="271.70" y1="730.86" x2="271.70" y2="771.68" stroke="#0c0c0c" stroke-width="2.4" stroke-linecap="butt"/>
<line x1="267.90" y1="730.86" x2="275.50" y2="730.86" stroke="#0c0c0c" stroke-width="2.7" stroke-linecap="butt"/>
<line x1="267.90" y1="771.68" x2="275.50" y2="771.68" stroke="#0c0c0c" stroke-width="2.7" stroke-linecap="butt"/>
<line x1="278.10" y1="725.97" x2="278.10" y2="766.79" stroke="#0c0c0c" stroke-width="2.4" stroke-linecap="butt"/>
<line x1="274.30" y1="725.97" x2="281.90" y2="725.97" stroke="#0c0c0c" stroke-width="2.7" stroke-linecap="butt"/>
<line x1="274.30" y1="766.79" x2="281.90" y2="766.79" stroke="#0c0c0c" stroke-width="2.7" stroke-linecap="butt"/>
<line x1="72.90" y1="910.83" x2="72.90" y2="914.02" stroke="#0c0c0c" stroke-width="2.4" stroke-linecap="butt"/>
<line x1="69.10" y1="910.83" x2="76.70" y2="910.83" stroke="#0c0c0c" stroke-width="2.7" stroke-linecap="butt"/>
<line x1="69.10" y1="914.02" x2="76.70" y2="914.02" stroke="#0c0c0c" stroke-width="2.7" stroke-linecap="butt"/>
<line x1="84.90" y1="906.05" x2="84.90" y2="916.25" stroke="#0c0c0c" stroke-width="2.4" stroke-linecap="butt"/>
<line x1="81.10" y1="906.05" x2="88.70" y2="906.05" stroke="#0c0c0c" stroke-width="2.7" stroke-linecap="butt"/>
<line x1="81.10" y1="916.25" x2="88.70" y2="916.25" stroke="#0c0c0c" stroke-width="2.7" stroke-linecap="butt"/>
<line x1="96.80" y1="904.13" x2="96.80" y2="913.70" stroke="#0c0c0c" stroke-width="2.4" stroke-linecap="butt"/>
<line x1="93.00" y1="904.13" x2="100.60" y2="904.13" stroke="#0c0c0c" stroke-width="2.7" stroke-linecap="butt"/>
<line x1="93.00" y1="913.70" x2="100.60" y2="913.70" stroke="#0c0c0c" stroke-width="2.7" stroke-linecap="butt"/>
<line x1="108.80" y1="899.35" x2="108.80" y2="907.85" stroke="#0c0c0c" stroke-width="2.4" stroke-linecap="butt"/>
<line x1="105.00" y1="899.35" x2="112.60" y2="899.35" stroke="#0c0c0c" stroke-width="2.7" stroke-linecap="butt"/>
<line x1="105.00" y1="907.85" x2="112.60" y2="907.85" stroke="#0c0c0c" stroke-width="2.7" stroke-linecap="butt"/>
<line x1="121.20" y1="871.50" x2="121.20" y2="887.23" stroke="#0c0c0c" stroke-width="2.4" stroke-linecap="butt"/>
<line x1="117.40" y1="871.50" x2="125.00" y2="871.50" stroke="#0c0c0c" stroke-width="2.7" stroke-linecap="butt"/>
<line x1="117.40" y1="887.23" x2="125.00" y2="887.23" stroke="#0c0c0c" stroke-width="2.7" stroke-linecap="butt"/>
<line x1="133.20" y1="862.68" x2="133.20" y2="880.96" stroke="#0c0c0c" stroke-width="2.4" stroke-linecap="butt"/>
<line x1="129.40" y1="862.68" x2="137.00" y2="862.68" stroke="#0c0c0c" stroke-width="2.7" stroke-linecap="butt"/>
<line x1="129.40" y1="880.96" x2="137.00" y2="880.96" stroke="#0c0c0c" stroke-width="2.7" stroke-linecap="butt"/>
<line x1="145.10" y1="851.51" x2="145.10" y2="866.18" stroke="#0c0c0c" stroke-width="2.4" stroke-linecap="butt"/>
<line x1="141.30" y1="851.51" x2="148.90" y2="851.51" stroke="#0c0c0c" stroke-width="2.7" stroke-linecap="butt"/>
<line x1="141.30" y1="866.18" x2="148.90" y2="866.18" stroke="#0c0c0c" stroke-width="2.7" stroke-linecap="butt"/>
<line x1="157.40" y1="839.50" x2="157.40" y2="852.05" stroke="#0c0c0c" stroke-width="2.4" stroke-linecap="butt"/>
<line x1="153.60" y1="839.50" x2="161.20" y2="839.50" stroke="#0c0c0c" stroke-width="2.7" stroke-linecap="butt"/>
<line x1="153.60" y1="852.05" x2="161.20" y2="852.05" stroke="#0c0c0c" stroke-width="2.7" stroke-linecap="butt"/>
<line x1="169.50" y1="822.28" x2="169.50" y2="840.99" stroke="#0c0c0c" stroke-width="2.4" stroke-linecap="butt"/>
<line x1="165.70" y1="822.28" x2="173.30" y2="822.28" stroke="#0c0c0c" stroke-width="2.7" stroke-linecap="butt"/>
<line x1="165.70" y1="840.99" x2="173.30" y2="840.99" stroke="#0c0c0c" stroke-width="2.7" stroke-linecap="butt"/>
<line x1="181.40" y1="808.04" x2="181.40" y2="830.36" stroke="#0c0c0c" stroke-width="2.4" stroke-linecap="butt"/>
<line x1="177.60" y1="808.04" x2="185.20" y2="808.04" stroke="#0c0c0c" stroke-width="2.7" stroke-linecap="butt"/>
<line x1="177.60" y1="830.36" x2="185.20" y2="830.36" stroke="#0c0c0c" stroke-width="2.7" stroke-linecap="butt"/>
<line x1="193.40" y1="807.19" x2="193.40" y2="829.51" stroke="#0c0c0c" stroke-width="2.4" stroke-linecap="butt"/>
<line x1="189.60" y1="807.19" x2="197.20" y2="807.19" stroke="#0c0c0c" stroke-width="2.7" stroke-linecap="butt"/>
<line x1="189.60" y1="829.51" x2="197.20" y2="829.51" stroke="#0c0c0c" stroke-width="2.7" stroke-linecap="butt"/>
<line x1="205.30" y1="794.54" x2="205.30" y2="817.71" stroke="#0c0c0c" stroke-width="2.4" stroke-linecap="butt"/>
<line x1="201.50" y1="794.54" x2="209.10" y2="794.54" stroke="#0c0c0c" stroke-width="2.7" stroke-linecap="butt"/>
<line x1="201.50" y1="817.71" x2="209.10" y2="817.71" stroke="#0c0c0c" stroke-width="2.7" stroke-linecap="butt"/>
<line x1="217.60" y1="779.44" x2="217.60" y2="802.40" stroke="#0c0c0c" stroke-width="2.4" stroke-linecap="butt"/>
<line x1="213.80" y1="779.44" x2="221.40" y2="779.44" stroke="#0c0c0c" stroke-width="2.7" stroke-linecap="butt"/>
<line x1="213.80" y1="802.40" x2="221.40" y2="802.40" stroke="#0c0c0c" stroke-width="2.7" stroke-linecap="butt"/>
<line x1="230.00" y1="773.28" x2="230.00" y2="799.85" stroke="#0c0c0c" stroke-width="2.4" stroke-linecap="butt"/>
<line x1="226.20" y1="773.28" x2="233.80" y2="773.28" stroke="#0c0c0c" stroke-width="2.7" stroke-linecap="butt"/>
<line x1="226.20" y1="799.85" x2="233.80" y2="799.85" stroke="#0c0c0c" stroke-width="2.7" stroke-linecap="butt"/>
<line x1="241.40" y1="779.55" x2="241.40" y2="806.97" stroke="#0c0c0c" stroke-width="2.4" stroke-linecap="butt"/>
<line x1="237.60" y1="779.55" x2="245.20" y2="779.55" stroke="#0c0c0c" stroke-width="2.7" stroke-linecap="butt"/>
<line x1="237.60" y1="806.97" x2="245.20" y2="806.97" stroke="#0c0c0c" stroke-width="2.7" stroke-linecap="butt"/>
<line x1="247.70" y1="769.88" x2="247.70" y2="796.45" stroke="#0c0c0c" stroke-width="2.4" stroke-linecap="butt"/>
<line x1="243.90" y1="769.88" x2="251.50" y2="769.88" stroke="#0c0c0c" stroke-width="2.7" stroke-linecap="butt"/>
<line x1="243.90" y1="796.45" x2="251.50" y2="796.45" stroke="#0c0c0c" stroke-width="2.7" stroke-linecap="butt"/>
<line x1="253.50" y1="770.30" x2="253.50" y2="800.70" stroke="#0c0c0c" stroke-width="2.4" stroke-linecap="butt"/>
<line x1="249.70" y1="770.30" x2="257.30" y2="770.30" stroke="#0c0c0c" stroke-width="2.7" stroke-linecap="butt"/>
<line x1="249.70" y1="800.70" x2="257.30" y2="800.70" stroke="#0c0c0c" stroke-width="2.7" stroke-linecap="butt"/>
<line x1="259.60" y1="771.79" x2="259.60" y2="804.95" stroke="#0c0c0c" stroke-width="2.4" stroke-linecap="butt"/>
<line x1="255.80" y1="771.79" x2="263.40" y2="771.79" stroke="#0c0c0c" stroke-width="2.7" stroke-linecap="butt"/>
<line x1="255.80" y1="804.95" x2="263.40" y2="804.95" stroke="#0c0c0c" stroke-width="2.7" stroke-linecap="butt"/>
<line x1="265.60" y1="774.23" x2="265.60" y2="810.59" stroke="#0c0c0c" stroke-width="2.4" stroke-linecap="butt"/>
<line x1="261.80" y1="774.23" x2="269.40" y2="774.23" stroke="#0c0c0c" stroke-width="2.7" stroke-linecap="butt"/>
<line x1="261.80" y1="810.59" x2="269.40" y2="810.59" stroke="#0c0c0c" stroke-width="2.7" stroke-linecap="butt"/>
<line x1="271.70" y1="774.23" x2="271.70" y2="810.59" stroke="#0c0c0c" stroke-width="2.4" stroke-linecap="butt"/>
<line x1="267.90" y1="774.23" x2="275.50" y2="774.23" stroke="#0c0c0c" stroke-width="2.7" stroke-linecap="butt"/>
<line x1="267.90" y1="810.59" x2="275.50" y2="810.59" stroke="#0c0c0c" stroke-width="2.7" stroke-linecap="butt"/>
<line x1="278.10" y1="779.23" x2="278.10" y2="823.45" stroke="#0c0c0c" stroke-width="2.4" stroke-linecap="butt"/>
<line x1="274.30" y1="779.23" x2="281.90" y2="779.23" stroke="#0c0c0c" stroke-width="2.7" stroke-linecap="butt"/>
<line x1="274.30" y1="823.45" x2="281.90" y2="823.45" stroke="#0c0c0c" stroke-width="2.7" stroke-linecap="butt"/>
<circle cx="61.00" cy="915.19" r="4.0" fill="#fff" stroke="#0c0c0c" stroke-width="2.9"/>
<circle cx="72.90" cy="911.36" r="4.0" fill="#fff" stroke="#0c0c0c" stroke-width="2.9"/>
<circle cx="84.90" cy="900.73" r="4.0" fill="#fff" stroke="#0c0c0c" stroke-width="2.9"/>
<circle cx="96.80" cy="897.12" r="4.0" fill="#fff" stroke="#0c0c0c" stroke-width="2.9"/>
<circle cx="108.80" cy="897.12" r="4.0" fill="#fff" stroke="#0c0c0c" stroke-width="2.9"/>
<circle cx="121.20" cy="863.74" r="4.0" fill="#fff" stroke="#0c0c0c" stroke-width="2.9"/>
<circle cx="133.20" cy="853.85" r="4.0" fill="#fff" stroke="#0c0c0c" stroke-width="2.9"/>
<circle cx="145.10" cy="848.54" r="4.0" fill="#fff" stroke="#0c0c0c" stroke-width="2.9"/>
<circle cx="157.40" cy="838.44" r="4.0" fill="#fff" stroke="#0c0c0c" stroke-width="2.9"/>
<circle cx="169.50" cy="826.64" r="4.0" fill="#fff" stroke="#0c0c0c" stroke-width="2.9"/>
<circle cx="181.40" cy="812.61" r="4.0" fill="#fff" stroke="#0c0c0c" stroke-width="2.9"/>
<circle cx="193.40" cy="803.57" r="4.0" fill="#fff" stroke="#0c0c0c" stroke-width="2.9"/>
<circle cx="205.30" cy="786.35" r="4.0" fill="#fff" stroke="#0c0c0c" stroke-width="2.9"/>
<circle cx="217.60" cy="781.46" r="4.0" fill="#fff" stroke="#0c0c0c" stroke-width="2.9"/>
<circle cx="230.00" cy="775.62" r="4.0" fill="#fff" stroke="#0c0c0c" stroke-width="2.9"/>
<circle cx="241.40" cy="764.88" r="4.0" fill="#fff" stroke="#0c0c0c" stroke-width="2.9"/>
<circle cx="247.70" cy="762.97" r="4.0" fill="#fff" stroke="#0c0c0c" stroke-width="2.9"/>
<circle cx="253.50" cy="758.39" r="4.0" fill="#fff" stroke="#0c0c0c" stroke-width="2.9"/>
<circle cx="259.60" cy="753.19" r="4.0" fill="#fff" stroke="#0c0c0c" stroke-width="2.9"/>
<circle cx="265.60" cy="751.91" r="4.0" fill="#fff" stroke="#0c0c0c" stroke-width="2.9"/>
<circle cx="271.70" cy="751.27" r="4.0" fill="#fff" stroke="#0c0c0c" stroke-width="2.9"/>
<circle cx="278.10" cy="746.38" r="4.0" fill="#fff" stroke="#0c0c0c" stroke-width="2.9"/>
<circle cx="61.00" cy="915.40" r="3.85" fill="#939393" stroke="#0c0c0c" stroke-width="3.1"/>
<circle cx="72.90" cy="912.42" r="3.85" fill="#939393" stroke="#0c0c0c" stroke-width="3.1"/>
<circle cx="84.90" cy="911.15" r="3.85" fill="#939393" stroke="#0c0c0c" stroke-width="3.1"/>
<circle cx="96.80" cy="908.92" r="3.85" fill="#939393" stroke="#0c0c0c" stroke-width="3.1"/>
<circle cx="108.80" cy="903.60" r="3.85" fill="#939393" stroke="#0c0c0c" stroke-width="3.1"/>
<circle cx="121.20" cy="879.36" r="3.85" fill="#939393" stroke="#0c0c0c" stroke-width="3.1"/>
<circle cx="133.20" cy="871.82" r="3.85" fill="#939393" stroke="#0c0c0c" stroke-width="3.1"/>
<circle cx="145.10" cy="858.85" r="3.85" fill="#939393" stroke="#0c0c0c" stroke-width="3.1"/>
<circle cx="157.40" cy="845.77" r="3.85" fill="#939393" stroke="#0c0c0c" stroke-width="3.1"/>
<circle cx="169.50" cy="831.64" r="3.85" fill="#939393" stroke="#0c0c0c" stroke-width="3.1"/>
<circle cx="181.40" cy="819.20" r="3.85" fill="#939393" stroke="#0c0c0c" stroke-width="3.1"/>
<circle cx="193.40" cy="818.35" r="3.85" fill="#939393" stroke="#0c0c0c" stroke-width="3.1"/>
<circle cx="205.30" cy="806.12" r="3.85" fill="#939393" stroke="#0c0c0c" stroke-width="3.1"/>
<circle cx="217.60" cy="790.92" r="3.85" fill="#939393" stroke="#0c0c0c" stroke-width="3.1"/>
<circle cx="230.00" cy="786.56" r="3.85" fill="#939393" stroke="#0c0c0c" stroke-width="3.1"/>
<circle cx="241.40" cy="793.26" r="3.85" fill="#939393" stroke="#0c0c0c" stroke-width="3.1"/>
<circle cx="247.70" cy="783.16" r="3.85" fill="#939393" stroke="#0c0c0c" stroke-width="3.1"/>
<circle cx="253.50" cy="785.50" r="3.85" fill="#939393" stroke="#0c0c0c" stroke-width="3.1"/>
<circle cx="259.60" cy="788.37" r="3.85" fill="#939393" stroke="#0c0c0c" stroke-width="3.1"/>
<circle cx="265.60" cy="792.41" r="3.85" fill="#939393" stroke="#0c0c0c" stroke-width="3.1"/>
<circle cx="271.70" cy="792.41" r="3.85" fill="#939393" stroke="#0c0c0c" stroke-width="3.1"/>
<circle cx="278.10" cy="801.34" r="3.85" fill="#939393" stroke="#0c0c0c" stroke-width="3.1"/>
<circle cx="79.4" cy="724.3" r="4.7" fill="#fff" stroke="#0c0c0c" stroke-width="3.3"/>
<circle cx="79.4" cy="744.1" r="4.7" fill="#939393" stroke="#0c0c0c" stroke-width="3.3"/>
<line x1="356.60" y1="700.70" x2="356.60" y2="939.00" stroke="#0c0c0c" stroke-width="2.5" stroke-linecap="butt"/>
<line x1="348.00" y1="937.70" x2="478.30" y2="937.70" stroke="#0c0c0c" stroke-width="3" stroke-linecap="butt"/>
<line x1="348.40" y1="937.70" x2="356.60" y2="937.70" stroke="#0c0c0c" stroke-width="2.5" stroke-linecap="butt"/>
<line x1="348.40" y1="859.12" x2="356.60" y2="859.12" stroke="#0c0c0c" stroke-width="2.5" stroke-linecap="butt"/>
<line x1="348.40" y1="780.55" x2="356.60" y2="780.55" stroke="#0c0c0c" stroke-width="2.5" stroke-linecap="butt"/>
<line x1="348.40" y1="701.98" x2="356.60" y2="701.98" stroke="#0c0c0c" stroke-width="2.5" stroke-linecap="butt"/>
<rect x="366.8" y="749.22" width="40.5" height="188.58" fill="#fff" stroke="#0c0c0c" stroke-width="2.8"/>
<line x1="387.00" y1="747.82" x2="387.00" y2="707.70" stroke="#0c0c0c" stroke-width="2.5" stroke-linecap="butt"/>
<line x1="377.20" y1="707.70" x2="397.00" y2="707.70" stroke="#0c0c0c" stroke-width="2.8" stroke-linecap="butt"/>
<rect x="426.30" y="933.00" width="42.40" height="4.70" fill="#0c0c0c"/>
<line x1="61.70" y1="1015.50" x2="61.70" y2="1247.50" stroke="#0c0c0c" stroke-width="3" stroke-linecap="butt"/>
<line x1="54.30" y1="1246.10" x2="234.70" y2="1246.10" stroke="#0c0c0c" stroke-width="3" stroke-linecap="butt"/>
<line x1="54.50" y1="1246.20" x2="61.70" y2="1246.20" stroke="#0c0c0c" stroke-width="2.6" stroke-linecap="butt"/>
<line x1="54.50" y1="1213.40" x2="61.70" y2="1213.40" stroke="#0c0c0c" stroke-width="2.6" stroke-linecap="butt"/>
<line x1="54.50" y1="1180.60" x2="61.70" y2="1180.60" stroke="#0c0c0c" stroke-width="2.6" stroke-linecap="butt"/>
<line x1="54.50" y1="1147.80" x2="61.70" y2="1147.80" stroke="#0c0c0c" stroke-width="2.6" stroke-linecap="butt"/>
<line x1="54.50" y1="1115.00" x2="61.70" y2="1115.00" stroke="#0c0c0c" stroke-width="2.6" stroke-linecap="butt"/>
<line x1="54.50" y1="1082.20" x2="61.70" y2="1082.20" stroke="#0c0c0c" stroke-width="2.6" stroke-linecap="butt"/>
<line x1="54.50" y1="1049.40" x2="61.70" y2="1049.40" stroke="#0c0c0c" stroke-width="2.6" stroke-linecap="butt"/>
<line x1="54.50" y1="1016.60" x2="61.70" y2="1016.60" stroke="#0c0c0c" stroke-width="2.6" stroke-linecap="butt"/>
<rect x="74.70" y="1240.70" width="32.80" height="5.40" fill="#fff" stroke="#0c0c0c" stroke-width="2.6"/>
<line x1="83.00" y1="1238.60" x2="100.10" y2="1238.60" stroke="#0c0c0c" stroke-width="1.8" stroke-linecap="butt"/>
<rect x="109.50" y="1242.30" width="34.00" height="3.80" fill="#53585b" stroke="#0c0c0c" stroke-width="2.6"/>
<rect x="155.30" y="1160.50" width="32.20" height="85.60" fill="#fff" stroke="#0c0c0c" stroke-width="2.6"/>
<line x1="171.90" y1="1146.40" x2="171.90" y2="1175.20" stroke="#0c0c0c" stroke-width="2.4" stroke-linecap="butt"/>
<line x1="163.70" y1="1146.40" x2="180.10" y2="1146.40" stroke="#0c0c0c" stroke-width="2.7" stroke-linecap="butt"/>
<line x1="163.70" y1="1175.20" x2="180.10" y2="1175.20" stroke="#0c0c0c" stroke-width="2.7" stroke-linecap="butt"/>
<line x1="205.80" y1="1034.40" x2="205.80" y2="1074.50" stroke="#0c0c0c" stroke-width="2.4" stroke-linecap="butt"/>
<line x1="197.60" y1="1034.40" x2="214.50" y2="1034.40" stroke="#0c0c0c" stroke-width="2.8" stroke-linecap="butt"/>
<rect x="188.90" y="1074.90" width="34.00" height="171.20" fill="#53585b" stroke="#0c0c0c" stroke-width="3.0"/>
<path d="M171.7,1087.4 L171.7,1020.1 L204.9,1020.1 L204.9,1026.5" fill="none" stroke="#0c0c0c" stroke-width="2.5"/>
<rect x="80.55" y="1022.55" width="28.3" height="9.2" fill="#fff" stroke="#0c0c0c" stroke-width="2.5"/>
<rect x="80.55" y="1043.75" width="28.3" height="10.7" fill="#53585b" stroke="#0c0c0c" stroke-width="2.5"/>
<line x1="310.50" y1="1016.50" x2="310.50" y2="1247.60" stroke="#0c0c0c" stroke-width="2.8" stroke-linecap="butt"/>
<line x1="303.20" y1="1246.20" x2="478.00" y2="1246.20" stroke="#0c0c0c" stroke-width="3" stroke-linecap="butt"/>
<line x1="303.20" y1="1246.30" x2="310.50" y2="1246.30" stroke="#0c0c0c" stroke-width="2.6" stroke-linecap="butt"/>
<line x1="303.20" y1="1213.59" x2="310.50" y2="1213.59" stroke="#0c0c0c" stroke-width="2.6" stroke-linecap="butt"/>
<line x1="303.20" y1="1180.87" x2="310.50" y2="1180.87" stroke="#0c0c0c" stroke-width="2.6" stroke-linecap="butt"/>
<line x1="303.20" y1="1148.15" x2="310.50" y2="1148.15" stroke="#0c0c0c" stroke-width="2.6" stroke-linecap="butt"/>
<line x1="303.20" y1="1115.44" x2="310.50" y2="1115.44" stroke="#0c0c0c" stroke-width="2.6" stroke-linecap="butt"/>
<line x1="303.20" y1="1082.72" x2="310.50" y2="1082.72" stroke="#0c0c0c" stroke-width="2.6" stroke-linecap="butt"/>
<line x1="303.20" y1="1050.01" x2="310.50" y2="1050.01" stroke="#0c0c0c" stroke-width="2.6" stroke-linecap="butt"/>
<line x1="303.20" y1="1017.29" x2="310.50" y2="1017.29" stroke="#0c0c0c" stroke-width="2.6" stroke-linecap="butt"/>
<line x1="340.10" y1="1231.20" x2="340.10" y2="1233.00" stroke="#0c0c0c" stroke-width="2" stroke-linecap="butt"/>
<line x1="332.30" y1="1231.20" x2="347.90" y2="1231.20" stroke="#0c0c0c" stroke-width="2.2" stroke-linecap="butt"/>
<line x1="375.30" y1="1232.20" x2="375.30" y2="1234.00" stroke="#0c0c0c" stroke-width="2" stroke-linecap="butt"/>
<line x1="367.30" y1="1232.20" x2="383.30" y2="1232.20" stroke="#0c0c0c" stroke-width="2.2" stroke-linecap="butt"/>
<rect x="323.20" y="1233.60" width="34.10" height="12.60" fill="#fff" stroke="#0c0c0c" stroke-width="2.6"/>
<rect x="359.10" y="1234.50" width="32.00" height="11.70" fill="#53585b" stroke="#0c0c0c" stroke-width="2.6"/>
<line x1="421.40" y1="1034.30" x2="421.40" y2="1068.00" stroke="#0c0c0c" stroke-width="2.4" stroke-linecap="butt"/>
<line x1="413.20" y1="1034.30" x2="430.00" y2="1034.30" stroke="#0c0c0c" stroke-width="2.8" stroke-linecap="butt"/>
<line x1="456.80" y1="1031.90" x2="456.80" y2="1064.50" stroke="#0c0c0c" stroke-width="2.4" stroke-linecap="butt"/>
<line x1="449.00" y1="1031.90" x2="465.50" y2="1031.90" stroke="#0c0c0c" stroke-width="2.8" stroke-linecap="butt"/>
<rect x="405.40" y="1068.20" width="32.70" height="178.00" fill="#fff" stroke="#0c0c0c" stroke-width="2.6"/>
<rect x="440.00" y="1064.70" width="33.30" height="181.50" fill="#53585b" stroke="#0c0c0c" stroke-width="3.2"/>
<rect x="324.95" y="1022.55" width="28.4" height="9.9" fill="#fff" stroke="#0c0c0c" stroke-width="2.5"/>
<rect x="324.95" y="1044.15" width="28.4" height="10.3" fill="#53585b" stroke="#0c0c0c" stroke-width="2.5"/>
<g font-family='"Liberation Sans", sans-serif' fill="#0c0c0c" text-rendering="geometricPrecision" style="opacity:0.999">
<text id="t_A" transform="translate(3.679,32.000) scale(1.0826,1)" font-size="23.419" font-weight="bold" stroke="#0c0c0c" stroke-width="0.3" stroke-linejoin="round" vector-effect="non-scaling-stroke">A</text>
<text id="t_B" transform="translate(284.595,32.000) scale(1.0107,1)" font-size="23.421" font-weight="bold" stroke="#0c0c0c" stroke-width="0.3" stroke-linejoin="round" vector-effect="non-scaling-stroke">B</text>
<text id="t_C" transform="translate(6.335,614.000) scale(0.9842,1)" font-size="24.066" font-weight="bold" stroke="#0c0c0c" stroke-width="0.3" stroke-linejoin="round" vector-effect="non-scaling-stroke">C</text>
<text id="t_D" transform="translate(4.340,1000.000) scale(1.0106,1)" font-size="23.773" font-weight="bold" stroke="#0c0c0c" stroke-width="0.3" stroke-linejoin="round" vector-effect="non-scaling-stroke">D</text>
<text id="t_mrna" transform="translate(66.341,26.000) scale(0.8909,1)" font-size="15.495" font-weight="bold" stroke="#0c0c0c" stroke-width="0.3" stroke-linejoin="round" vector-effect="non-scaling-stroke">mRNA level</text>
<text id="t_lp1" transform="translate(147.747,26.000) scale(0.8685,1)" font-size="15.444" font-weight="bold" stroke="#0c0c0c" stroke-width="0.3" stroke-linejoin="round" vector-effect="non-scaling-stroke">(</text>
<text id="t_gulo" transform="translate(153.432,26.000) scale(0.8163,1)" font-size="15.408" font-weight="bold" stroke="#0c0c0c" stroke-width="0.3" stroke-linejoin="round" vector-effect="non-scaling-stroke" font-style="italic">Gulo</text>
<text id="t_sup" transform="translate(183.465,19.000) scale(0.8086,1)" font-size="15.767" font-weight="bold" stroke="#0c0c0c" stroke-width="0.3" stroke-linejoin="round" vector-effect="non-scaling-stroke">-/-</text>
<text id="t_rp1" transform="translate(197.360,26.000) scale(0.8521,1)" font-size="15.371" font-weight="bold" stroke="#0c0c0c" stroke-width="0.3" stroke-linejoin="round" vector-effect="non-scaling-stroke">)</text>
<text id="t_pasc" transform="translate(71.397,51.000) scale(0.8918,1)" font-size="15.548" font-weight="bold" stroke="#0c0c0c" stroke-width="0.3" stroke-linejoin="round" vector-effect="non-scaling-stroke">(+Asc)</text>
<text id="t_masc" transform="translate(150.851,51.000) scale(0.8783,1)" font-size="16.067" font-weight="bold" stroke="#0c0c0c" stroke-width="0.3" stroke-linejoin="round" vector-effect="non-scaling-stroke">(-Asc)</text>
<text id="t_log" transform="translate(331.605,43.000) scale(0.8957,1)" font-size="15.002" font-weight="bold" stroke="#0c0c0c" stroke-width="0.3" stroke-linejoin="round" vector-effect="non-scaling-stroke" font-style="italic">log</text>
<text id="t_log2" transform="translate(352.084,48.000) scale(1.0292,1)" font-size="10.121" font-weight="bold" stroke="#0c0c0c" stroke-width="0.3" stroke-linejoin="round" vector-effect="non-scaling-stroke">2</text>
<text id="t_ratio" transform="translate(359.632,45.000) scale(0.8071,1)" font-size="17.283" font-weight="bold" stroke="#0c0c0c" stroke-width="0.3" stroke-linejoin="round" vector-effect="non-scaling-stroke">(-Asc/+Asc)</text>
<text id="t_col_A1_brain" transform="translate(64.000,112.841) rotate(-90) scale(0.8343,1)" font-size="16.190" font-weight="bold" stroke="#0c0c0c" stroke-width="0.3" stroke-linejoin="round" vector-effect="non-scaling-stroke">brain</text>
<text id="t_col_A1_kidney" transform="translate(81.000,113.122) rotate(-90) scale(0.8469,1)" font-size="16.198" font-weight="bold" stroke="#0c0c0c" stroke-width="0.3" stroke-linejoin="round" vector-effect="non-scaling-stroke">kidney</text>
<text id="t_col_A1_lung" transform="translate(97.000,112.878) rotate(-90) scale(1.0351,1)" font-size="13.081" font-weight="bold" stroke="#0c0c0c" stroke-width="0.3" stroke-linejoin="round" vector-effect="non-scaling-stroke">lung</text>
<text id="t_col_A1_liver" transform="translate(113.000,112.877) rotate(-90) scale(0.8408,1)" font-size="16.178" font-weight="bold" stroke="#0c0c0c" stroke-width="0.3" stroke-linejoin="round" vector-effect="non-scaling-stroke">liver</text>
<text id="t_col_A1_heart" transform="translate(128.000,112.883) rotate(-90) scale(0.8698,1)" font-size="15.798" font-weight="bold" stroke="#0c0c0c" stroke-width="0.3" stroke-linejoin="round" vector-effect="non-scaling-stroke">heart</text>
<text id="t_col_A2_brain" transform="translate(147.000,113.179) rotate(-90) scale(0.8417,1)" font-size="16.417" font-weight="bold" stroke="#0c0c0c" stroke-width="0.3" stroke-linejoin="round" vector-effect="non-scaling-stroke">brain</text>
<text id="t_col_A2_kidney" transform="translate(163.000,113.173) rotate(-90) scale(0.8398,1)" font-size="16.326" font-weight="bold" stroke="#0c0c0c" stroke-width="0.3" stroke-linejoin="round" vector-effect="non-scaling-stroke">kidney</text>
<text id="t_col_A2_lung" transform="translate(177.000,113.236) rotate(-90) scale(1.0268,1)" font-size="13.557" font-weight="bold" stroke="#0c0c0c" stroke-width="0.3" stroke-linejoin="round" vector-effect="non-scaling-stroke">lung</text>
<text id="t_col_A2_liver" transform="translate(195.000,113.377) rotate(-90) scale(0.9399,1)" font-size="14.830" font-weight="bold" stroke="#0c0c0c" stroke-width="0.3" stroke-linejoin="round" vector-effect="non-scaling-stroke">liver</text>
<text id="t_col_A2_heart" transform="translate(211.000,113.293) rotate(-90) scale(0.8635,1)" font-size="16.171" font-weight="bold" stroke="#0c0c0c" stroke-width="0.3" stroke-linejoin="round" vector-effect="non-scaling-stroke">heart</text>
<text id="t_col_B_brain" transform="translate(355.000,112.862) rotate(-90) scale(0.8177,1)" font-size="16.628" font-weight="bold" stroke="#0c0c0c" stroke-width="0.3" stroke-linejoin="round" vector-effect="non-scaling-stroke">brain</text>
<text id="t_col_B_kidney" transform="translate(371.000,112.856) rotate(-90) scale(0.8218,1)" font-size="16.589" font-weight="bold" stroke="#0c0c0c" stroke-width="0.3" stroke-linejoin="round" vector-effect="non-scaling-stroke">kidney</text>
<text id="t_col_B_lung" transform="translate(386.000,113.289) rotate(-90) scale(0.9798,1)" font-size="14.031" font-weight="bold" stroke="#0c0c0c" stroke-width="0.3" stroke-linejoin="round" vector-effect="non-scaling-stroke">lung</text>
<text id="t_col_B_liver" transform="translate(403.000,113.297) rotate(-90) scale(0.8941,1)" font-size="15.644" font-weight="bold" stroke="#0c0c0c" stroke-width="0.3" stroke-linejoin="round" vector-effect="non-scaling-stroke">liver</text>
<text id="t_col_B_heart" transform="translate(418.000,113.279) rotate(-90) scale(0.8775,1)" font-size="15.628" font-weight="bold" stroke="#0c0c0c" stroke-width="0.3" stroke-linejoin="round" vector-effect="non-scaling-stroke">heart</text>
<text id="t_rowA_Hif1a" transform="translate(225.199,136.000) scale(0.8239,1)" font-size="16.711" font-weight="bold" stroke="#0c0c0c" stroke-width="0.3" stroke-linejoin="round" vector-effect="non-scaling-stroke">Hif1a</text>
<text id="t_rowB_Hif1a" transform="translate(433.449,137.000) scale(0.8247,1)" font-size="16.813" font-weight="bold" stroke="#0c0c0c" stroke-width="0.3" stroke-linejoin="round" vector-effect="non-scaling-stroke">Hif1a</text>
<text id="t_rowA_Hif2a" transform="translate(225.143,162.000) scale(0.8308,1)" font-size="16.641" font-weight="bold" stroke="#0c0c0c" stroke-width="0.3" stroke-linejoin="round" vector-effect="non-scaling-stroke">Hif2a</text>
<text id="t_rowB_Hif2a" transform="translate(433.457,162.000) scale(0.8377,1)" font-size="16.565" font-weight="bold" stroke="#0c0c0c" stroke-width="0.3" stroke-linejoin="round" vector-effect="non-scaling-stroke">Hif2a</text>
<text id="t_rowA_Bnip3" transform="translate(225.031,187.000) scale(0.8482,1)" font-size="16.615" font-weight="bold" stroke="#0c0c0c" stroke-width="0.3" stroke-linejoin="round" vector-effect="non-scaling-stroke">Bnip3</text>
<text id="t_rowB_Bnip3" transform="translate(433.366,187.000) scale(0.8508,1)" font-size="16.751" font-weight="bold" stroke="#0c0c0c" stroke-width="0.3" stroke-linejoin="round" vector-effect="non-scaling-stroke">Bnip3</text>
<text id="t_rowA_Ca9" transform="translate(225.367,214.000) scale(0.8229,1)" font-size="16.860" font-weight="bold" stroke="#0c0c0c" stroke-width="0.3" stroke-linejoin="round" vector-effect="non-scaling-stroke">Ca9</text>
<text id="t_rowB_Ca9" transform="translate(433.636,214.000) scale(0.8502,1)" font-size="16.619" font-weight="bold" stroke="#0c0c0c" stroke-width="0.3" stroke-linejoin="round" vector-effect="non-scaling-stroke">Ca9</text>
<text id="t_rowA_Glut1" transform="translate(225.427,239.000) scale(0.8166,1)" font-size="16.479" font-weight="bold" stroke="#0c0c0c" stroke-width="0.3" stroke-linejoin="round" vector-effect="non-scaling-stroke">Glut1</text>
<text id="t_rowB_Glut1" transform="translate(433.843,239.000) scale(0.8119,1)" font-size="16.487" font-weight="bold" stroke="#0c0c0c" stroke-width="0.3" stroke-linejoin="round" vector-effect="non-scaling-stroke">Glut1</text>
<text id="t_rowA_Pdk1" transform="translate(225.218,265.000) scale(0.8049,1)" font-size="16.525" font-weight="bold" stroke="#0c0c0c" stroke-width="0.3" stroke-linejoin="round" vector-effect="non-scaling-stroke">Pdk1</text>
<text id="t_rowB_Pdk1" transform="translate(433.436,266.000) scale(0.8113,1)" font-size="16.605" font-weight="bold" stroke="#0c0c0c" stroke-width="0.3" stroke-linejoin="round" vector-effect="non-scaling-stroke">Pdk1</text>
<text id="t_rowA_Phd1" transform="translate(225.232,292.000) scale(0.8253,1)" font-size="16.638" font-weight="bold" stroke="#0c0c0c" stroke-width="0.3" stroke-linejoin="round" vector-effect="non-scaling-stroke">Phd1</text>
<text id="t_rowB_Phd1" transform="translate(433.459,292.000) scale(0.8304,1)" font-size="16.621" font-weight="bold" stroke="#0c0c0c" stroke-width="0.3" stroke-linejoin="round" vector-effect="non-scaling-stroke">Phd1</text>
<text id="t_rowA_Phd2" transform="translate(225.072,317.000) scale(0.8550,1)" font-size="16.561" font-weight="bold" stroke="#0c0c0c" stroke-width="0.3" stroke-linejoin="round" vector-effect="non-scaling-stroke">Phd2</text>
<text id="t_rowB_Phd2" transform="translate(433.386,317.000) scale(0.8620,1)" font-size="16.580" font-weight="bold" stroke="#0c0c0c" stroke-width="0.3" stroke-linejoin="round" vector-effect="non-scaling-stroke">Phd2</text>
<text id="t_rowA_Phd3" transform="translate(224.766,343.000) scale(0.8634,1)" font-size="16.444" font-weight="bold" stroke="#0c0c0c" stroke-width="0.3" stroke-linejoin="round" vector-effect="non-scaling-stroke">Phd3</text>
<text id="t_rowB_Phd3" transform="translate(433.420,343.000) scale(0.8498,1)" font-size="16.586" font-weight="bold" stroke="#0c0c0c" stroke-width="0.3" stroke-linejoin="round" vector-effect="non-scaling-stroke">Phd3</text>
<text id="t_rowA_Ndrg1" transform="translate(225.181,367.000) scale(0.7953,1)" font-size="16.828" font-weight="bold" stroke="#0c0c0c" stroke-width="0.3" stroke-linejoin="round" vector-effect="non-scaling-stroke">Ndrg1</text>
<text id="t_rowB_Ndrg1" transform="translate(433.382,367.000) scale(0.8062,1)" font-size="16.771" font-weight="bold" stroke="#0c0c0c" stroke-width="0.3" stroke-linejoin="round" vector-effect="non-scaling-stroke">Ndrg1</text>
<text id="t_rowA_Sod1" transform="translate(225.551,395.000) scale(0.8177,1)" font-size="16.649" font-weight="bold" stroke="#0c0c0c" stroke-width="0.3" stroke-linejoin="round" vector-effect="non-scaling-stroke">Sod1</text>
<text id="t_rowB_Sod1" transform="translate(433.824,395.000) scale(0.8090,1)" font-size="16.864" font-weight="bold" stroke="#0c0c0c" stroke-width="0.3" stroke-linejoin="round" vector-effect="non-scaling-stroke">Sod1</text>
<text id="t_rowA_Sod2" transform="translate(225.578,421.000) scale(0.8201,1)" font-size="16.785" font-weight="bold" stroke="#0c0c0c" stroke-width="0.3" stroke-linejoin="round" vector-effect="non-scaling-stroke">Sod2</text>
<text id="t_rowB_Sod2" transform="translate(433.813,421.000) scale(0.8143,1)" font-size="16.942" font-weight="bold" stroke="#0c0c0c" stroke-width="0.3" stroke-linejoin="round" vector-effect="non-scaling-stroke">Sod2</text>
<text id="t_rowA_Glrx" transform="translate(225.437,446.000) scale(0.8180,1)" font-size="16.468" font-weight="bold" stroke="#0c0c0c" stroke-width="0.3" stroke-linejoin="round" vector-effect="non-scaling-stroke">Glrx</text>
<text id="t_rowB_Glrx" transform="translate(433.821,446.000) scale(0.8153,1)" font-size="16.485" font-weight="bold" stroke="#0c0c0c" stroke-width="0.3" stroke-linejoin="round" vector-effect="non-scaling-stroke">Glrx</text>
<text id="t_rowA_Ednrb" transform="translate(224.784,473.000) scale(0.8534,1)" font-size="16.522" font-weight="bold" stroke="#0c0c0c" stroke-width="0.3" stroke-linejoin="round" vector-effect="non-scaling-stroke">Ednrb</text>
<text id="t_rowB_Ednrb" transform="translate(433.457,473.000) scale(0.8593,1)" font-size="16.437" font-weight="bold" stroke="#0c0c0c" stroke-width="0.3" stroke-linejoin="round" vector-effect="non-scaling-stroke">Ednrb</text>
<text id="t_rowA_Mmp3" transform="translate(224.817,497.000) scale(0.8384,1)" font-size="16.853" font-weight="bold" stroke="#0c0c0c" stroke-width="0.3" stroke-linejoin="round" vector-effect="non-scaling-stroke">Mmp3</text>
<text id="t_rowB_Mmp3" transform="translate(433.446,497.000) scale(0.8391,1)" font-size="16.676" font-weight="bold" stroke="#0c0c0c" stroke-width="0.3" stroke-linejoin="round" vector-effect="non-scaling-stroke">Mmp3</text>
<text id="t_rowA_Svct1" transform="translate(225.592,524.000) scale(0.8035,1)" font-size="16.705" font-weight="bold" stroke="#0c0c0c" stroke-width="0.3" stroke-linejoin="round" vector-effect="non-scaling-stroke">Svct1</text>
<text id="t_rowB_Svct1" transform="translate(433.898,524.000) scale(0.8008,1)" font-size="16.734" font-weight="bold" stroke="#0c0c0c" stroke-width="0.3" stroke-linejoin="round" vector-effect="non-scaling-stroke">Svct1</text>
<text id="t_rowA_Svct2" transform="translate(225.637,550.000) scale(0.8143,1)" font-size="16.815" font-weight="bold" stroke="#0c0c0c" stroke-width="0.3" stroke-linejoin="round" vector-effect="non-scaling-stroke">Svct2</text>
<text id="t_rowB_Svct2" transform="translate(433.809,550.000) scale(0.8317,1)" font-size="16.711" font-weight="bold" stroke="#0c0c0c" stroke-width="0.3" stroke-linejoin="round" vector-effect="non-scaling-stroke">Svct2</text>
<text id="t_cb3p" transform="translate(7.485,396.000) scale(0.7722,1)" font-size="13.248" font-weight="bold" stroke="#0c0c0c" stroke-width="0.3" stroke-linejoin="round" vector-effect="non-scaling-stroke">+3</text>
<text id="t_cb0" transform="translate(15.745,477.000) scale(0.7577,1)" font-size="13.007" font-weight="bold" stroke="#0c0c0c" stroke-width="0.3" stroke-linejoin="round" vector-effect="non-scaling-stroke">0</text>
<text id="t_cb3m" transform="translate(10.790,560.000) scale(0.8199,1)" font-size="13.121" font-weight="bold" stroke="#0c0c0c" stroke-width="0.3" stroke-linejoin="round" vector-effect="non-scaling-stroke">-3</text>
<text id="t_cbb1" transform="translate(287.892,413.000) scale(0.8571,1)" font-size="12.269" font-weight="bold" stroke="#0c0c0c" stroke-width="0.3" stroke-linejoin="round" vector-effect="non-scaling-stroke">+1.79</text>
<text id="t_cbb2" transform="translate(291.659,491.000) scale(0.8253,1)" font-size="12.441" font-weight="bold" stroke="#0c0c0c" stroke-width="0.3" stroke-linejoin="round" vector-effect="non-scaling-stroke">-0.23</text>
<text id="t_cbb3" transform="translate(291.824,555.000) scale(0.8011,1)" font-size="12.628" font-weight="bold" stroke="#0c0c0c" stroke-width="0.3" stroke-linejoin="round" vector-effect="non-scaling-stroke">-1.75</text>
<text id="t_asc1" transform="translate(59.162,605.000) scale(0.9786,1)" font-size="13.615" font-weight="bold" stroke="#0c0c0c" stroke-width="0.3" stroke-linejoin="round" vector-effect="non-scaling-stroke">ascorbate</text>
<text id="t_asc2" transform="translate(59.529,624.000) scale(0.8729,1)" font-size="15.178" font-weight="bold" stroke="#0c0c0c" stroke-width="0.3" stroke-linejoin="round" vector-effect="non-scaling-stroke">withdrawal</text>
<text id="t_hyp1" transform="translate(204.509,603.000) scale(1.0461,1)" font-size="13.538" font-weight="normal" stroke="#0c0c0c" stroke-width="0.6" stroke-linejoin="round" vector-effect="non-scaling-stroke">24h hypoxia</text>
<text id="t_hyp2a" transform="translate(223.092,622.000) scale(0.8375,1)" font-size="15.298" font-weight="normal" stroke="#0c0c0c" stroke-width="0.5" stroke-linejoin="round" vector-effect="non-scaling-stroke">[F</text>
<text id="t_hyp2b" transform="translate(235.460,626.000) scale(1.3648,1)" font-size="10.680" font-weight="normal" stroke="#0c0c0c" stroke-width="0.4" stroke-linejoin="round" vector-effect="non-scaling-stroke">i</text>
<text id="t_hyp2c" transform="translate(238.663,622.000) scale(0.7474,1)" font-size="15.605" font-weight="normal" stroke="#0c0c0c" stroke-width="0.5" stroke-linejoin="round" vector-effect="non-scaling-stroke">O</text>
<text id="t_hyp2d" transform="translate(248.491,625.000) scale(0.8654,1)" font-size="11.532" font-weight="normal" stroke="#0c0c0c" stroke-width="0.4" stroke-linejoin="round" vector-effect="non-scaling-stroke">2</text>
<text id="t_hyp2e" transform="translate(257.744,622.000) scale(0.8954,1)" font-size="15.379" font-weight="normal" stroke="#0c0c0c" stroke-width="0.5" stroke-linejoin="round" vector-effect="non-scaling-stroke">8%]</text>
<text id="t_days" transform="translate(9.650,682.000) scale(0.8709,1)" font-size="15.514" font-weight="bold" stroke="#0c0c0c" stroke-width="0.3" stroke-linejoin="round" vector-effect="non-scaling-stroke">days</text>
<text id="t_tl10" transform="translate(122.010,683.000) scale(0.8720,1)" font-size="15.591" font-weight="bold" stroke="#0c0c0c" stroke-width="0.3" stroke-linejoin="round" vector-effect="non-scaling-stroke" text-anchor="middle">10</text>
<text id="t_tl0" transform="translate(61.710,683.000) scale(0.8720,1)" font-size="15.591" font-weight="bold" stroke="#0c0c0c" stroke-width="0.3" stroke-linejoin="round" vector-effect="non-scaling-stroke" text-anchor="middle">0</text>
<text id="t_tl5" transform="translate(91.860,683.000) scale(0.8720,1)" font-size="15.591" font-weight="bold" stroke="#0c0c0c" stroke-width="0.3" stroke-linejoin="round" vector-effect="non-scaling-stroke" text-anchor="middle">5</text>
<text id="t_tl15" transform="translate(152.160,683.000) scale(0.8720,1)" font-size="15.591" font-weight="bold" stroke="#0c0c0c" stroke-width="0.3" stroke-linejoin="round" vector-effect="non-scaling-stroke" text-anchor="middle">15</text>
<text id="t_tl20" transform="translate(182.310,683.000) scale(0.8720,1)" font-size="15.591" font-weight="bold" stroke="#0c0c0c" stroke-width="0.3" stroke-linejoin="round" vector-effect="non-scaling-stroke" text-anchor="middle">20</text>
<text id="t_tl25" transform="translate(212.460,683.000) scale(0.8720,1)" font-size="15.591" font-weight="bold" stroke="#0c0c0c" stroke-width="0.3" stroke-linejoin="round" vector-effect="non-scaling-stroke" text-anchor="middle">25</text>
<text id="t_tl30" transform="translate(242.610,683.000) scale(0.8720,1)" font-size="15.591" font-weight="bold" stroke="#0c0c0c" stroke-width="0.3" stroke-linejoin="round" vector-effect="non-scaling-stroke" text-anchor="middle">30</text>
<text id="t_tl35" transform="translate(272.760,683.000) scale(0.8720,1)" font-size="15.591" font-weight="bold" stroke="#0c0c0c" stroke-width="0.3" stroke-linejoin="round" vector-effect="non-scaling-stroke" text-anchor="middle">35</text>
<text id="t_sy0" transform="translate(41.009,920.000) scale(0.8015,1)" font-size="16.675" font-weight="bold" stroke="#0c0c0c" stroke-width="0.3" stroke-linejoin="round" vector-effect="non-scaling-stroke" text-anchor="end">0</text>
<text id="t_sy5" transform="translate(41.009,866.850) scale(0.8015,1)" font-size="16.675" font-weight="bold" stroke="#0c0c0c" stroke-width="0.3" stroke-linejoin="round" vector-effect="non-scaling-stroke" text-anchor="end">5</text>
<text id="t_sy10" transform="translate(41.009,813.700) scale(0.8015,1)" font-size="16.675" font-weight="bold" stroke="#0c0c0c" stroke-width="0.3" stroke-linejoin="round" vector-effect="non-scaling-stroke" text-anchor="end">10</text>
<text id="t_sy15" transform="translate(41.009,760.550) scale(0.8015,1)" font-size="16.675" font-weight="bold" stroke="#0c0c0c" stroke-width="0.3" stroke-linejoin="round" vector-effect="non-scaling-stroke" text-anchor="end">15</text>
<text id="t_sy20" transform="translate(41.009,707.400) scale(0.8015,1)" font-size="16.675" font-weight="bold" stroke="#0c0c0c" stroke-width="0.3" stroke-linejoin="round" vector-effect="non-scaling-stroke" text-anchor="end">20</text>
<text id="t_sx10" transform="translate(121.856,959.000) scale(0.9135,1)" font-size="15.123" font-weight="bold" stroke="#0c0c0c" stroke-width="0.3" stroke-linejoin="round" vector-effect="non-scaling-stroke" text-anchor="middle">10</text>
<text id="t_sx0" transform="translate(61.556,959.000) scale(0.9135,1)" font-size="15.123" font-weight="bold" stroke="#0c0c0c" stroke-width="0.3" stroke-linejoin="round" vector-effect="non-scaling-stroke" text-anchor="middle">0</text>
<text id="t_sx5" transform="translate(91.706,959.000) scale(0.9135,1)" font-size="15.123" font-weight="bold" stroke="#0c0c0c" stroke-width="0.3" stroke-linejoin="round" vector-effect="non-scaling-stroke" text-anchor="middle">5</text>
<text id="t_sx15" transform="translate(152.006,959.000) scale(0.9135,1)" font-size="15.123" font-weight="bold" stroke="#0c0c0c" stroke-width="0.3" stroke-linejoin="round" vector-effect="non-scaling-stroke" text-anchor="middle">15</text>
<text id="t_sx20" transform="translate(182.156,959.000) scale(0.9135,1)" font-size="15.123" font-weight="bold" stroke="#0c0c0c" stroke-width="0.3" stroke-linejoin="round" vector-effect="non-scaling-stroke" text-anchor="middle">20</text>
<text id="t_sx25" transform="translate(212.306,959.000) scale(0.9135,1)" font-size="15.123" font-weight="bold" stroke="#0c0c0c" stroke-width="0.3" stroke-linejoin="round" vector-effect="non-scaling-stroke" text-anchor="middle">25</text>
<text id="t_sx30" transform="translate(242.456,959.000) scale(0.9135,1)" font-size="15.123" font-weight="bold" stroke="#0c0c0c" stroke-width="0.3" stroke-linejoin="round" vector-effect="non-scaling-stroke" text-anchor="middle">30</text>
<text id="t_sx35" transform="translate(272.606,959.000) scale(0.9135,1)" font-size="15.123" font-weight="bold" stroke="#0c0c0c" stroke-width="0.3" stroke-linejoin="round" vector-effect="non-scaling-stroke" text-anchor="middle">35</text>
<text id="t_sxl" transform="translate(64.131,977.000) scale(0.9174,1)" font-size="15.157" font-weight="bold" stroke="#0c0c0c" stroke-width="0.3" stroke-linejoin="round" vector-effect="non-scaling-stroke">days post ascorbate withdrawal</text>
<text id="t_syl" transform="translate(17.000,892.873) rotate(-90) scale(0.8494,1)" font-size="16.469" font-weight="bold" stroke="#0c0c0c" stroke-width="0.3" stroke-linejoin="round" vector-effect="non-scaling-stroke">gain of body weight [%]</text>
<text id="t_lgp" transform="translate(92.868,727.000) scale(0.8957,1)" font-size="15.502" font-weight="bold" stroke="#0c0c0c" stroke-width="0.3" stroke-linejoin="round" vector-effect="non-scaling-stroke">+Asc</text>
<text id="t_lgm" transform="translate(96.607,750.000) scale(0.8499,1)" font-size="16.220" font-weight="bold" stroke="#0c0c0c" stroke-width="0.3" stroke-linejoin="round" vector-effect="non-scaling-stroke">-Asc</text>
<text id="t_by75" transform="translate(346.546,706.000) scale(0.8381,1)" font-size="16.296" font-weight="bold" stroke="#0c0c0c" stroke-width="0.3" stroke-linejoin="round" vector-effect="non-scaling-stroke" text-anchor="end">75</text>
<text id="t_by0" transform="translate(346.546,941.700) scale(0.8381,1)" font-size="16.296" font-weight="bold" stroke="#0c0c0c" stroke-width="0.3" stroke-linejoin="round" vector-effect="non-scaling-stroke" text-anchor="end">0</text>
<text id="t_by25" transform="translate(346.546,863.125) scale(0.8381,1)" font-size="16.296" font-weight="bold" stroke="#0c0c0c" stroke-width="0.3" stroke-linejoin="round" vector-effect="non-scaling-stroke" text-anchor="end">25</text>
<text id="t_by50" transform="translate(346.546,784.550) scale(0.8381,1)" font-size="16.296" font-weight="bold" stroke="#0c0c0c" stroke-width="0.3" stroke-linejoin="round" vector-effect="non-scaling-stroke" text-anchor="end">50</text>
<text id="t_bxp" transform="translate(372.740,960.000) scale(0.9165,1)" font-size="14.745" font-weight="bold" stroke="#0c0c0c" stroke-width="0.3" stroke-linejoin="round" vector-effect="non-scaling-stroke">+Asc</text>
<text id="t_bxm" transform="translate(434.660,960.000) scale(0.9203,1)" font-size="14.827" font-weight="bold" stroke="#0c0c0c" stroke-width="0.3" stroke-linejoin="round" vector-effect="non-scaling-stroke">-Asc</text>
<text id="t_lt1" transform="translate(417.726,915.000) scale(0.9039,1)" font-size="12.920" font-weight="bold" stroke="#0c0c0c" stroke-width="0.3" stroke-linejoin="round" vector-effect="non-scaling-stroke">&#8804;</text>
<text id="t_lt2" transform="translate(429.423,915.000) scale(0.7815,1)" font-size="11.532" font-weight="bold" stroke="#0c0c0c" stroke-width="0.3" stroke-linejoin="round" vector-effect="non-scaling-stroke">1</text>
<text id="t_lt3" transform="translate(439.578,915.000) scale(1.2627,1)" font-size="10.935" font-weight="normal" stroke="#0c0c0c" stroke-width="0.15" stroke-linejoin="round" vector-effect="non-scaling-stroke">&#956;</text>
<text id="t_lt4" transform="translate(447.183,915.000) scale(1.1891,1)" font-size="10.618" font-weight="bold" stroke="#0c0c0c" stroke-width="0.3" stroke-linejoin="round" vector-effect="non-scaling-stroke">mol/l</text>
<text id="t_byl" transform="translate(324.000,925.728) rotate(-90) scale(0.8793,1)" font-size="16.091" font-weight="bold" stroke="#0c0c0c" stroke-width="0.3" stroke-linejoin="round" vector-effect="non-scaling-stroke">plasma ascorbate levels <tspan font-weight="normal" stroke-width="0.55">[&#956;mol/l]</tspan></text>
<text id="t_dy7" transform="translate(53.241,1022.000) scale(0.8684,1)" font-size="16.046" font-weight="bold" stroke="#0c0c0c" stroke-width="0.3" stroke-linejoin="round" vector-effect="non-scaling-stroke" text-anchor="end">0.07</text>
<text id="t_dy0" transform="translate(53.241,1250.900) scale(0.8684,1)" font-size="16.046" font-weight="bold" stroke="#0c0c0c" stroke-width="0.3" stroke-linejoin="round" vector-effect="non-scaling-stroke" text-anchor="end">0.00</text>
<text id="t_dy1" transform="translate(53.241,1218.100) scale(0.8684,1)" font-size="16.046" font-weight="bold" stroke="#0c0c0c" stroke-width="0.3" stroke-linejoin="round" vector-effect="non-scaling-stroke" text-anchor="end">0.01</text>
<text id="t_dy2" transform="translate(53.241,1185.300) scale(0.8684,1)" font-size="16.046" font-weight="bold" stroke="#0c0c0c" stroke-width="0.3" stroke-linejoin="round" vector-effect="non-scaling-stroke" text-anchor="end">0.02</text>
<text id="t_dy3" transform="translate(53.241,1152.500) scale(0.8684,1)" font-size="16.046" font-weight="bold" stroke="#0c0c0c" stroke-width="0.3" stroke-linejoin="round" vector-effect="non-scaling-stroke" text-anchor="end">0.03</text>
<text id="t_dy4" transform="translate(53.241,1119.700) scale(0.8684,1)" font-size="16.046" font-weight="bold" stroke="#0c0c0c" stroke-width="0.3" stroke-linejoin="round" vector-effect="non-scaling-stroke" text-anchor="end">0.04</text>
<text id="t_dy5" transform="translate(53.241,1086.900) scale(0.8684,1)" font-size="16.046" font-weight="bold" stroke="#0c0c0c" stroke-width="0.3" stroke-linejoin="round" vector-effect="non-scaling-stroke" text-anchor="end">0.05</text>
<text id="t_dy6" transform="translate(53.241,1054.100) scale(0.8684,1)" font-size="16.046" font-weight="bold" stroke="#0c0c0c" stroke-width="0.3" stroke-linejoin="round" vector-effect="non-scaling-stroke" text-anchor="end">0.06</text>
<text id="t_dyl" transform="translate(17.000,1200.162) rotate(-90) scale(0.8440,1)" font-size="16.516" font-weight="bold" stroke="#0c0c0c" stroke-width="0.3" stroke-linejoin="round" vector-effect="non-scaling-stroke">Epo mRNA (rel. to S12)</text>
<text id="t_dlp" transform="translate(119.689,1032.000) scale(0.8654,1)" font-size="15.440" font-weight="bold" stroke="#0c0c0c" stroke-width="0.3" stroke-linejoin="round" vector-effect="non-scaling-stroke">+Asc</text>
<text id="t_dlm" transform="translate(122.502,1054.000) scale(0.8531,1)" font-size="15.993" font-weight="bold" stroke="#0c0c0c" stroke-width="0.3" stroke-linejoin="round" vector-effect="non-scaling-stroke">-Asc</text>
<text id="t_ns" transform="translate(176.881,1014.000) scale(0.9447,1)" font-size="14.965" font-weight="bold" stroke="#0c0c0c" stroke-width="0.3" stroke-linejoin="round" vector-effect="non-scaling-stroke">n.s.</text>
<text id="t_fio2a" transform="translate(25.982,1272.000) scale(0.7439,1)" font-size="16.042" font-weight="normal" stroke="#0c0c0c" stroke-width="0.35" stroke-linejoin="round" vector-effect="non-scaling-stroke">F</text>
<text id="t_fio2b" transform="translate(33.838,1275.000) scale(1.2613,1)" font-size="11.196" font-weight="normal" stroke="#0c0c0c" stroke-width="0.3" stroke-linejoin="round" vector-effect="non-scaling-stroke">i</text>
<text id="t_fio2c" transform="translate(36.633,1272.000) scale(0.7202,1)" font-size="17.316" font-weight="normal" stroke="#0c0c0c" stroke-width="0.35" stroke-linejoin="round" vector-effect="non-scaling-stroke">O</text>
<text id="t_fio2d" transform="translate(47.474,1275.000) scale(0.9664,1)" font-size="10.916" font-weight="normal" stroke="#0c0c0c" stroke-width="0.3" stroke-linejoin="round" vector-effect="non-scaling-stroke">2</text>
<text id="t_d21" transform="translate(96.639,1273.000) scale(0.8132,1)" font-size="17.068" font-weight="bold" stroke="#0c0c0c" stroke-width="0.3" stroke-linejoin="round" vector-effect="non-scaling-stroke">21%</text>
<text id="t_d8" transform="translate(185.667,1273.000) scale(0.7985,1)" font-size="17.123" font-weight="bold" stroke="#0c0c0c" stroke-width="0.3" stroke-linejoin="round" vector-effect="non-scaling-stroke">8%</text>
<text id="t_ry3500" transform="translate(301.252,1022.000) scale(0.8645,1)" font-size="15.274" font-weight="bold" stroke="#0c0c0c" stroke-width="0.3" stroke-linejoin="round" vector-effect="non-scaling-stroke" text-anchor="end">3500</text>
<text id="t_ry0" transform="translate(301.252,1251.300) scale(0.8645,1)" font-size="15.274" font-weight="bold" stroke="#0c0c0c" stroke-width="0.3" stroke-linejoin="round" vector-effect="non-scaling-stroke" text-anchor="end">0</text>
<text id="t_ry500" transform="translate(301.252,1218.585) scale(0.8645,1)" font-size="15.274" font-weight="bold" stroke="#0c0c0c" stroke-width="0.3" stroke-linejoin="round" vector-effect="non-scaling-stroke" text-anchor="end">500</text>
<text id="t_ry1000" transform="translate(301.252,1185.870) scale(0.8645,1)" font-size="15.274" font-weight="bold" stroke="#0c0c0c" stroke-width="0.3" stroke-linejoin="round" vector-effect="non-scaling-stroke" text-anchor="end">1000</text>
<text id="t_ry1500" transform="translate(301.252,1153.155) scale(0.8645,1)" font-size="15.274" font-weight="bold" stroke="#0c0c0c" stroke-width="0.3" stroke-linejoin="round" vector-effect="non-scaling-stroke" text-anchor="end">1500</text>
<text id="t_ry2000" transform="translate(301.252,1120.440) scale(0.8645,1)" font-size="15.274" font-weight="bold" stroke="#0c0c0c" stroke-width="0.3" stroke-linejoin="round" vector-effect="non-scaling-stroke" text-anchor="end">2000</text>
<text id="t_ry2500" transform="translate(301.252,1087.725) scale(0.8645,1)" font-size="15.274" font-weight="bold" stroke="#0c0c0c" stroke-width="0.3" stroke-linejoin="round" vector-effect="non-scaling-stroke" text-anchor="end">2500</text>
<text id="t_ry3000" transform="translate(301.252,1055.010) scale(0.8645,1)" font-size="15.274" font-weight="bold" stroke="#0c0c0c" stroke-width="0.3" stroke-linejoin="round" vector-effect="non-scaling-stroke" text-anchor="end">3000</text>
<text id="t_ryl" transform="translate(260.000,1200.588) rotate(-90) scale(0.9082,1)" font-size="16.156" font-weight="normal" stroke="#0c0c0c" stroke-width="0.6" stroke-linejoin="round" vector-effect="non-scaling-stroke">Plasma EPO [pg/ml]</text>
<text id="t_rlp" transform="translate(363.144,1032.000) scale(0.8748,1)" font-size="15.595" font-weight="bold" stroke="#0c0c0c" stroke-width="0.3" stroke-linejoin="round" vector-effect="non-scaling-stroke">+Asc</text>
<text id="t_rlm" transform="translate(366.631,1054.000) scale(0.8558,1)" font-size="16.013" font-weight="bold" stroke="#0c0c0c" stroke-width="0.3" stroke-linejoin="round" vector-effect="non-scaling-stroke">-Asc</text>
<text id="t_oxy" transform="translate(255.182,1273.000) scale(0.8298,1)" font-size="16.651" font-weight="bold" stroke="#0c0c0c" stroke-width="0.3" stroke-linejoin="round" vector-effect="non-scaling-stroke">oxygen</text>
<text id="t_r21" transform="translate(346.631,1273.000) scale(0.8146,1)" font-size="17.103" font-weight="bold" stroke="#0c0c0c" stroke-width="0.3" stroke-linejoin="round" vector-effect="non-scaling-stroke">21%</text>
<text id="t_r8" transform="translate(436.427,1273.000) scale(0.8032,1)" font-size="17.123" font-weight="bold" stroke="#0c0c0c" stroke-width="0.3" stroke-linejoin="round" vector-effect="non-scaling-stroke">8%</text>
</g></svg></body></html>
